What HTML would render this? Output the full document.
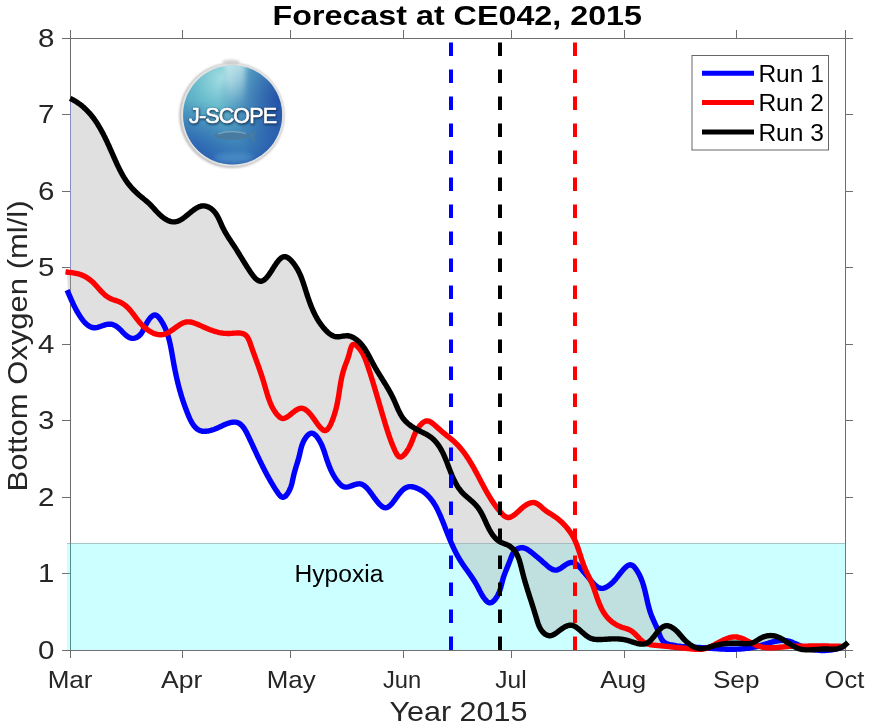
<!DOCTYPE html>
<html><head><meta charset="utf-8"><style>html,body{margin:0;padding:0;background:#fff;}svg{display:block;will-change:transform;}</style></head>
<body><svg width="870" height="728" viewBox="0 0 870 728">
<rect x="0" y="0" width="870" height="728" fill="#fff"/>
<g stroke="#6e6e6e" stroke-width="1" fill="none" shape-rendering="crispEdges">
<rect x="70" y="38" width="775" height="612"/>
<line x1="70.0" y1="650" x2="70.0" y2="658"/>
<line x1="70.0" y1="30" x2="70.0" y2="38"/>
<line x1="182.3" y1="650" x2="182.3" y2="658"/>
<line x1="182.3" y1="30" x2="182.3" y2="38"/>
<line x1="290.9" y1="650" x2="290.9" y2="658"/>
<line x1="290.9" y1="30" x2="290.9" y2="38"/>
<line x1="403.2" y1="650" x2="403.2" y2="658"/>
<line x1="403.2" y1="30" x2="403.2" y2="38"/>
<line x1="511.8" y1="650" x2="511.8" y2="658"/>
<line x1="511.8" y1="30" x2="511.8" y2="38"/>
<line x1="624.1" y1="650" x2="624.1" y2="658"/>
<line x1="624.1" y1="30" x2="624.1" y2="38"/>
<line x1="736.4" y1="650" x2="736.4" y2="658"/>
<line x1="736.4" y1="30" x2="736.4" y2="38"/>
<line x1="845.0" y1="650" x2="845.0" y2="658"/>
<line x1="845.0" y1="30" x2="845.0" y2="38"/>
<line x1="62" y1="650.0" x2="70" y2="650.0"/>
<line x1="845" y1="650.0" x2="853" y2="650.0"/>
<line x1="62" y1="573.5" x2="70" y2="573.5"/>
<line x1="845" y1="573.5" x2="853" y2="573.5"/>
<line x1="62" y1="497.0" x2="70" y2="497.0"/>
<line x1="845" y1="497.0" x2="853" y2="497.0"/>
<line x1="62" y1="420.5" x2="70" y2="420.5"/>
<line x1="845" y1="420.5" x2="853" y2="420.5"/>
<line x1="62" y1="344.0" x2="70" y2="344.0"/>
<line x1="845" y1="344.0" x2="853" y2="344.0"/>
<line x1="62" y1="267.5" x2="70" y2="267.5"/>
<line x1="845" y1="267.5" x2="853" y2="267.5"/>
<line x1="62" y1="191.0" x2="70" y2="191.0"/>
<line x1="845" y1="191.0" x2="853" y2="191.0"/>
<line x1="62" y1="114.5" x2="70" y2="114.5"/>
<line x1="845" y1="114.5" x2="853" y2="114.5"/>
<line x1="62" y1="38.0" x2="70" y2="38.0"/>
<line x1="845" y1="38.0" x2="853" y2="38.0"/>
</g>
<rect x="67" y="543" width="778.5" height="107" fill="#00ffff" fill-opacity="0.2"/>
<line x1="67" y1="543.5" x2="845.5" y2="543.5" stroke="#7a9090" stroke-width="1" stroke-opacity="0.5"/>
<path d="M67.00 272.07 L68.00 272.20 L69.00 272.32 L70.00 272.45 L71.00 98.84 L72.00 99.34 L73.00 99.87 L74.00 100.43 L75.00 101.01 L76.00 101.62 L77.00 102.26 L78.00 102.93 L79.00 103.63 L80.00 104.36 L81.00 105.13 L82.00 105.93 L83.00 106.77 L84.00 107.65 L85.00 108.56 L86.00 109.52 L87.00 110.52 L88.00 111.56 L89.00 112.65 L90.00 113.78 L91.00 114.97 L92.00 116.21 L93.00 117.49 L94.00 118.84 L95.00 120.24 L96.00 121.69 L97.00 123.21 L98.00 124.79 L99.00 126.43 L100.00 128.13 L101.00 129.90 L102.00 131.72 L103.00 133.61 L104.00 135.56 L105.00 137.57 L106.00 139.63 L107.00 141.75 L108.00 143.90 L109.00 146.10 L110.00 148.33 L111.00 150.58 L112.00 152.84 L113.00 155.11 L114.00 157.37 L115.00 159.62 L116.00 161.84 L117.00 164.03 L118.00 166.17 L119.00 168.24 L120.00 170.24 L121.00 172.16 L122.00 174.00 L123.00 175.76 L124.00 177.44 L125.00 179.03 L126.00 180.54 L127.00 181.98 L128.00 183.34 L129.00 184.64 L130.00 185.87 L131.00 187.03 L132.00 188.15 L133.00 189.22 L134.00 190.26 L135.00 191.25 L136.00 192.22 L137.00 193.16 L138.00 194.07 L139.00 194.96 L140.00 195.83 L141.00 196.68 L142.00 197.51 L143.00 198.33 L144.00 199.14 L145.00 199.95 L146.00 200.77 L147.00 201.61 L148.00 202.47 L149.00 203.39 L150.00 204.36 L151.00 205.38 L152.00 206.44 L153.00 207.54 L154.00 208.65 L155.00 209.77 L156.00 210.87 L157.00 211.94 L158.00 212.97 L159.00 213.96 L160.00 214.90 L161.00 215.79 L162.00 216.63 L163.00 217.41 L164.00 218.14 L165.00 218.81 L166.00 219.42 L167.00 219.98 L168.00 220.47 L169.00 220.90 L170.00 221.25 L171.00 221.53 L172.00 221.74 L173.00 221.86 L174.00 221.90 L175.00 221.85 L176.00 221.69 L177.00 221.44 L178.00 221.10 L179.00 220.69 L180.00 220.20 L181.00 219.65 L182.00 219.03 L183.00 218.37 L184.00 217.65 L185.00 216.90 L186.00 216.11 L187.00 215.31 L188.00 214.48 L189.00 213.66 L190.00 212.83 L191.00 212.02 L192.00 211.22 L193.00 210.45 L194.00 209.71 L195.00 209.02 L196.00 208.38 L197.00 207.80 L198.00 207.28 L199.00 206.83 L200.00 206.46 L201.00 206.17 L202.00 205.97 L203.00 205.86 L204.00 205.86 L205.00 205.97 L206.00 206.18 L207.00 206.48 L208.00 206.87 L209.00 207.35 L210.00 207.92 L211.00 208.59 L212.00 209.36 L213.00 210.24 L214.00 211.26 L215.00 212.45 L216.00 213.81 L217.00 215.37 L218.00 217.16 L219.00 219.17 L220.00 221.36 L221.00 223.63 L222.00 225.88 L223.00 227.99 L224.00 229.95 L225.00 231.79 L226.00 233.53 L227.00 235.20 L228.00 236.82 L229.00 238.39 L230.00 239.93 L231.00 241.45 L232.00 242.96 L233.00 244.46 L234.00 245.96 L235.00 247.48 L236.00 249.02 L237.00 250.59 L238.00 252.18 L239.00 253.80 L240.00 255.43 L241.00 257.07 L242.00 258.71 L243.00 260.35 L244.00 261.98 L245.00 263.60 L246.00 265.20 L247.00 266.78 L248.00 268.34 L249.00 269.88 L250.00 271.39 L251.00 272.87 L252.00 274.28 L253.00 275.61 L254.00 276.84 L255.00 277.96 L256.00 278.95 L257.00 279.78 L258.00 280.45 L259.00 280.93 L260.00 281.21 L261.00 281.24 L262.00 281.04 L263.00 280.62 L264.00 280.00 L265.00 279.20 L266.00 278.24 L267.00 277.13 L268.00 275.89 L269.00 274.54 L270.00 273.11 L271.00 271.60 L272.00 270.06 L273.00 268.48 L274.00 266.91 L275.00 265.37 L276.00 263.88 L277.00 262.46 L278.00 261.16 L279.00 259.99 L280.00 258.97 L281.00 258.12 L282.00 257.46 L283.00 256.99 L284.00 256.73 L285.00 256.70 L286.00 256.88 L287.00 257.26 L288.00 257.82 L289.00 258.53 L290.00 259.38 L291.00 260.36 L292.00 261.45 L293.00 262.65 L294.00 263.96 L295.00 265.37 L296.00 266.88 L297.00 268.50 L298.00 270.27 L299.00 272.20 L300.00 274.32 L301.00 276.66 L302.00 279.24 L303.00 282.06 L304.00 285.08 L305.00 288.20 L306.00 291.33 L307.00 294.43 L308.00 297.44 L309.00 300.34 L310.00 303.10 L311.00 305.71 L312.00 308.17 L313.00 310.49 L314.00 312.66 L315.00 314.70 L316.00 316.61 L317.00 318.40 L318.00 320.09 L319.00 321.67 L320.00 323.16 L321.00 324.57 L322.00 325.89 L323.00 327.14 L324.00 328.33 L325.00 329.45 L326.00 330.51 L327.00 331.50 L328.00 332.43 L329.00 333.29 L330.00 334.06 L331.00 334.74 L332.00 335.33 L333.00 335.82 L334.00 336.22 L335.00 336.51 L336.00 336.69 L337.00 336.78 L338.00 336.79 L339.00 336.73 L340.00 336.61 L341.00 336.46 L342.00 336.29 L343.00 336.13 L344.00 335.97 L345.00 335.85 L346.00 335.77 L347.00 335.76 L348.00 335.81 L349.00 335.95 L350.00 336.20 L351.00 336.52 L352.00 336.92 L353.00 337.39 L354.00 337.94 L355.00 338.57 L356.00 339.26 L357.00 340.02 L358.00 340.86 L359.00 341.77 L360.00 342.77 L361.00 343.86 L362.00 345.03 L363.00 346.30 L364.00 347.68 L365.00 349.16 L366.00 350.73 L367.00 352.41 L368.00 354.16 L369.00 355.99 L370.00 357.88 L371.00 359.79 L372.00 361.70 L373.00 363.59 L374.00 365.43 L375.00 367.22 L376.00 368.95 L377.00 370.65 L378.00 372.31 L379.00 373.94 L380.00 375.56 L381.00 377.17 L382.00 378.76 L383.00 380.36 L384.00 381.97 L385.00 383.59 L386.00 385.22 L387.00 386.88 L388.00 388.58 L389.00 390.31 L390.00 392.10 L391.00 393.95 L392.00 395.87 L393.00 397.88 L394.00 400.01 L395.00 402.26 L396.00 404.59 L397.00 406.92 L398.00 409.19 L399.00 411.34 L400.00 413.32 L401.00 415.11 L402.00 416.74 L403.00 418.17 L404.00 419.45 L405.00 420.61 L406.00 421.66 L407.00 422.62 L408.00 423.51 L409.00 424.35 L410.00 425.12 L411.00 425.86 L412.00 426.55 L413.00 427.21 L414.00 427.84 L415.00 428.44 L416.00 429.02 L417.00 429.58 L418.00 428.15 L419.00 426.73 L420.00 425.48 L421.00 424.36 L422.00 423.37 L423.00 422.53 L424.00 421.85 L425.00 421.34 L426.00 421.03 L427.00 420.92 L428.00 421.00 L429.00 421.27 L430.00 421.69 L431.00 422.25 L432.00 422.93 L433.00 423.70 L434.00 424.52 L435.00 425.38 L436.00 426.26 L437.00 427.15 L438.00 428.05 L439.00 428.94 L440.00 429.84 L441.00 430.73 L442.00 431.60 L443.00 432.45 L444.00 433.28 L445.00 434.09 L446.00 434.88 L447.00 435.67 L448.00 436.46 L449.00 437.25 L450.00 438.05 L451.00 438.86 L452.00 439.69 L453.00 440.55 L454.00 441.44 L455.00 442.37 L456.00 443.33 L457.00 444.34 L458.00 445.39 L459.00 446.48 L460.00 447.61 L461.00 448.79 L462.00 450.01 L463.00 451.29 L464.00 452.61 L465.00 453.97 L466.00 455.39 L467.00 456.85 L468.00 458.36 L469.00 459.92 L470.00 461.53 L471.00 463.18 L472.00 464.88 L473.00 466.61 L474.00 468.39 L475.00 470.20 L476.00 472.03 L477.00 473.90 L478.00 475.78 L479.00 477.67 L480.00 479.57 L481.00 481.47 L482.00 483.37 L483.00 485.25 L484.00 487.11 L485.00 488.95 L486.00 490.76 L487.00 492.53 L488.00 494.25 L489.00 495.94 L490.00 497.59 L491.00 499.18 L492.00 500.73 L493.00 502.24 L494.00 503.70 L495.00 505.10 L496.00 506.47 L497.00 507.79 L498.00 509.07 L499.00 510.31 L500.00 511.51 L501.00 512.67 L502.00 513.78 L503.00 514.80 L504.00 515.69 L505.00 516.43 L506.00 516.99 L507.00 517.35 L508.00 517.50 L509.00 517.47 L510.00 517.25 L511.00 516.89 L512.00 516.38 L513.00 515.78 L514.00 515.09 L515.00 514.33 L516.00 513.51 L517.00 512.64 L518.00 511.74 L519.00 510.81 L520.00 509.88 L521.00 508.96 L522.00 508.07 L523.00 507.22 L524.00 506.43 L525.00 505.70 L526.00 505.03 L527.00 504.42 L528.00 503.89 L529.00 503.44 L530.00 503.06 L531.00 502.77 L532.00 502.57 L533.00 502.50 L534.00 502.59 L535.00 502.81 L536.00 503.16 L537.00 503.66 L538.00 504.27 L539.00 504.98 L540.00 505.78 L541.00 506.64 L542.00 507.54 L543.00 508.43 L544.00 509.31 L545.00 510.13 L546.00 510.89 L547.00 511.59 L548.00 512.24 L549.00 512.87 L550.00 513.49 L551.00 514.10 L552.00 514.72 L553.00 515.37 L554.00 516.04 L555.00 516.73 L556.00 517.46 L557.00 518.22 L558.00 519.00 L559.00 519.82 L560.00 520.68 L561.00 521.57 L562.00 522.51 L563.00 523.48 L564.00 524.50 L565.00 525.57 L566.00 526.69 L567.00 527.86 L568.00 529.10 L569.00 530.42 L570.00 531.81 L571.00 533.29 L572.00 534.89 L573.00 536.60 L574.00 538.48 L575.00 540.55 L576.00 542.83 L577.00 545.34 L578.00 548.08 L579.00 551.03 L580.00 554.13 L581.00 557.28 L582.00 560.38 L583.00 563.34 L584.00 566.09 L585.00 568.60 L586.00 570.88 L587.00 573.00 L588.00 575.03 L589.00 577.03 L590.00 579.07 L591.00 580.64 L592.00 581.84 L593.00 582.98 L594.00 584.05 L595.00 585.04 L596.00 585.92 L597.00 586.68 L598.00 587.32 L599.00 587.80 L600.00 588.14 L601.00 588.33 L602.00 588.37 L603.00 588.28 L604.00 588.06 L605.00 587.71 L606.00 587.26 L607.00 586.73 L608.00 586.13 L609.00 585.45 L610.00 584.68 L611.00 583.86 L612.00 582.96 L613.00 582.00 L614.00 580.96 L615.00 579.84 L616.00 578.65 L617.00 577.42 L618.00 576.15 L619.00 574.87 L620.00 573.59 L621.00 572.34 L622.00 571.12 L623.00 569.94 L624.00 568.83 L625.00 567.81 L626.00 566.90 L627.00 566.12 L628.00 565.49 L629.00 565.05 L630.00 564.83 L631.00 564.87 L632.00 565.21 L633.00 565.83 L634.00 566.72 L635.00 567.85 L636.00 569.18 L637.00 570.67 L638.00 572.32 L639.00 574.12 L640.00 576.13 L641.00 578.37 L642.00 580.91 L643.00 583.83 L644.00 587.18 L645.00 591.01 L646.00 595.28 L647.00 599.75 L648.00 604.06 L649.00 607.95 L650.00 611.34 L651.00 614.26 L652.00 616.82 L653.00 619.16 L654.00 621.39 L655.00 623.57 L656.00 625.77 L657.00 628.04 L658.00 630.45 L659.00 630.28 L660.00 629.23 L661.00 628.30 L662.00 627.50 L663.00 626.84 L664.00 626.33 L665.00 625.97 L666.00 625.78 L667.00 625.74 L668.00 625.85 L669.00 626.08 L670.00 626.43 L671.00 626.88 L672.00 627.42 L673.00 628.05 L674.00 628.77 L675.00 629.58 L676.00 630.46 L677.00 631.43 L678.00 632.47 L679.00 633.58 L680.00 634.72 L681.00 635.89 L682.00 637.05 L683.00 638.18 L684.00 639.27 L685.00 640.30 L686.00 641.26 L687.00 642.17 L688.00 643.02 L689.00 643.81 L690.00 644.55 L691.00 645.22 L692.00 645.83 L693.00 646.38 L694.00 646.87 L695.00 647.29 L696.00 647.38 L697.00 647.42 L698.00 647.47 L699.00 647.51 L700.00 647.56 L701.00 647.61 L702.00 647.66 L703.00 647.72 L704.00 647.78 L705.00 647.84 L706.00 647.91 L707.00 647.77 L708.00 647.52 L709.00 647.24 L710.00 646.85 L711.00 646.41 L712.00 645.94 L713.00 645.45 L714.00 644.94 L715.00 644.42 L716.00 643.89 L717.00 643.36 L718.00 642.82 L719.00 642.28 L720.00 641.75 L721.00 641.23 L722.00 640.72 L723.00 640.22 L724.00 639.75 L725.00 639.30 L726.00 638.87 L727.00 638.48 L728.00 638.12 L729.00 637.81 L730.00 637.53 L731.00 637.30 L732.00 637.11 L733.00 636.98 L734.00 636.92 L735.00 636.91 L736.00 636.96 L737.00 637.07 L738.00 637.24 L739.00 637.47 L740.00 637.75 L741.00 638.08 L742.00 638.44 L743.00 638.84 L744.00 639.27 L745.00 639.73 L746.00 640.21 L747.00 640.71 L748.00 641.21 L749.00 641.73 L750.00 642.25 L751.00 642.76 L752.00 642.95 L753.00 642.60 L754.00 642.15 L755.00 641.63 L756.00 641.06 L757.00 640.46 L758.00 639.84 L759.00 639.22 L760.00 638.63 L761.00 638.07 L762.00 637.57 L763.00 637.12 L764.00 636.75 L765.00 636.42 L766.00 636.15 L767.00 635.93 L768.00 635.76 L769.00 635.65 L770.00 635.58 L771.00 635.57 L772.00 635.61 L773.00 635.70 L774.00 635.87 L775.00 636.09 L776.00 636.36 L777.00 636.69 L778.00 637.07 L779.00 637.49 L780.00 637.97 L781.00 638.49 L782.00 639.04 L783.00 639.63 L784.00 640.24 L785.00 640.50 L786.00 640.62 L787.00 640.77 L788.00 640.99 L789.00 641.25 L790.00 641.54 L791.00 641.87 L792.00 642.24 L793.00 642.63 L794.00 643.04 L795.00 643.46 L796.00 643.90 L797.00 644.33 L798.00 644.77 L799.00 645.19 L800.00 645.61 L801.00 646.01 L802.00 646.13 L803.00 646.12 L804.00 646.11 L805.00 646.10 L806.00 646.09 L807.00 646.08 L808.00 646.07 L809.00 646.06 L810.00 646.06 L811.00 646.05 L812.00 646.04 L813.00 646.04 L814.00 646.03 L815.00 646.03 L816.00 646.02 L817.00 646.02 L818.00 646.02 L819.00 646.02 L820.00 646.02 L821.00 646.02 L822.00 646.02 L823.00 646.03 L824.00 646.03 L825.00 646.04 L826.00 646.04 L827.00 646.05 L828.00 646.06 L829.00 646.07 L830.00 646.09 L831.00 646.10 L832.00 646.12 L833.00 646.13 L834.00 646.15 L835.00 646.17 L836.00 646.19 L837.00 646.22 L838.00 646.25 L839.00 646.27 L840.00 646.30 L841.00 646.33 L842.00 646.37 L843.00 646.37 L844.00 645.74 L845.00 645.04 L845.00 645.50 L844.00 646.44 L843.00 646.63 L842.00 647.07 L841.00 647.47 L840.00 647.86 L839.00 648.24 L838.00 648.55 L837.00 648.81 L836.00 648.99 L835.00 649.18 L834.00 649.38 L833.00 649.57 L832.00 649.74 L831.00 649.89 L830.00 650.03 L829.00 650.15 L828.00 650.25 L827.00 650.33 L826.00 650.39 L825.00 650.44 L824.00 650.47 L823.00 650.48 L822.00 650.47 L821.00 650.44 L820.00 650.39 L819.00 650.32 L818.00 650.24 L817.00 650.14 L816.00 650.01 L815.00 649.87 L814.00 649.71 L813.00 649.71 L812.00 649.77 L811.00 649.82 L810.00 649.86 L809.00 649.88 L808.00 649.89 L807.00 649.88 L806.00 649.84 L805.00 649.78 L804.00 649.69 L803.00 649.57 L802.00 649.41 L801.00 649.22 L800.00 648.98 L799.00 648.70 L798.00 648.36 L797.00 647.97 L796.00 647.53 L795.00 647.05 L794.00 646.54 L793.00 646.27 L792.00 646.30 L791.00 646.34 L790.00 646.38 L789.00 646.44 L788.00 646.50 L787.00 646.57 L786.00 646.65 L785.00 646.74 L784.00 646.83 L783.00 646.93 L782.00 647.03 L781.00 647.12 L780.00 647.22 L779.00 647.32 L778.00 647.41 L777.00 647.49 L776.00 647.57 L775.00 647.64 L774.00 647.70 L773.00 647.75 L772.00 647.79 L771.00 647.81 L770.00 647.81 L769.00 647.80 L768.00 647.77 L767.00 647.71 L766.00 647.62 L765.00 647.51 L764.00 647.37 L763.00 647.20 L762.00 647.00 L761.00 646.76 L760.00 646.49 L759.00 646.19 L758.00 646.25 L757.00 646.49 L756.00 646.72 L755.00 646.94 L754.00 647.15 L753.00 647.35 L752.00 647.54 L751.00 647.71 L750.00 647.88 L749.00 648.03 L748.00 648.18 L747.00 648.31 L746.00 648.44 L745.00 648.55 L744.00 648.66 L743.00 648.75 L742.00 648.84 L741.00 648.92 L740.00 648.99 L739.00 649.05 L738.00 649.11 L737.00 649.16 L736.00 649.19 L735.00 649.23 L734.00 649.25 L733.00 649.27 L732.00 649.28 L731.00 649.28 L730.00 649.28 L729.00 649.27 L728.00 649.25 L727.00 649.23 L726.00 649.20 L725.00 649.17 L724.00 649.13 L723.00 649.09 L722.00 649.04 L721.00 648.99 L720.00 648.93 L719.00 648.87 L718.00 648.80 L717.00 648.73 L716.00 648.66 L715.00 648.59 L714.00 648.51 L713.00 648.44 L712.00 648.36 L711.00 648.28 L710.00 648.20 L709.00 648.13 L708.00 648.05 L707.00 648.01 L706.00 648.33 L705.00 648.61 L704.00 648.85 L703.00 649.04 L702.00 649.18 L701.00 649.29 L700.00 649.35 L699.00 649.38 L698.00 649.38 L697.00 649.35 L696.00 649.30 L695.00 649.24 L694.00 649.16 L693.00 649.07 L692.00 648.97 L691.00 648.87 L690.00 648.78 L689.00 648.68 L688.00 648.58 L687.00 648.48 L686.00 648.38 L685.00 648.28 L684.00 648.17 L683.00 648.07 L682.00 647.97 L681.00 647.87 L680.00 647.77 L679.00 647.67 L678.00 647.56 L677.00 647.46 L676.00 647.36 L675.00 647.26 L674.00 647.16 L673.00 647.05 L672.00 646.95 L671.00 646.85 L670.00 646.75 L669.00 646.65 L668.00 646.55 L667.00 646.45 L666.00 646.35 L665.00 646.25 L664.00 646.16 L663.00 646.06 L662.00 645.96 L661.00 645.87 L660.00 645.77 L659.00 645.68 L658.00 645.58 L657.00 645.49 L656.00 645.40 L655.00 645.30 L654.00 645.19 L653.00 645.07 L652.00 644.94 L651.00 644.78 L650.00 644.58 L649.00 644.35 L648.00 644.08 L647.00 643.76 L646.00 643.53 L645.00 643.81 L644.00 644.00 L643.00 644.09 L642.00 644.11 L641.00 644.06 L640.00 643.95 L639.00 643.79 L638.00 643.59 L637.00 643.34 L636.00 643.08 L635.00 642.79 L634.00 642.48 L633.00 642.16 L632.00 641.83 L631.00 641.51 L630.00 641.18 L629.00 640.87 L628.00 640.57 L627.00 640.29 L626.00 640.03 L625.00 639.80 L624.00 639.59 L623.00 639.42 L622.00 639.27 L621.00 639.15 L620.00 639.05 L619.00 638.97 L618.00 638.91 L617.00 638.87 L616.00 638.85 L615.00 638.84 L614.00 638.85 L613.00 638.87 L612.00 638.91 L611.00 638.95 L610.00 638.99 L609.00 639.05 L608.00 639.11 L607.00 639.17 L606.00 639.23 L605.00 639.29 L604.00 639.35 L603.00 639.40 L602.00 639.45 L601.00 639.49 L600.00 639.52 L599.00 639.54 L598.00 639.54 L597.00 639.50 L596.00 639.44 L595.00 639.34 L594.00 639.20 L593.00 639.00 L592.00 638.73 L591.00 638.39 L590.00 637.97 L589.00 637.46 L588.00 636.87 L587.00 636.20 L586.00 635.46 L585.00 634.66 L584.00 633.82 L583.00 632.94 L582.00 632.04 L581.00 631.14 L580.00 630.25 L579.00 629.39 L578.00 628.57 L577.00 627.81 L576.00 627.12 L575.00 626.52 L574.00 626.02 L573.00 625.63 L572.00 625.36 L571.00 625.22 L570.00 625.21 L569.00 625.33 L568.00 625.57 L567.00 625.91 L566.00 626.34 L565.00 626.84 L564.00 627.41 L563.00 628.03 L562.00 628.69 L561.00 629.40 L560.00 630.13 L559.00 630.89 L558.00 631.65 L557.00 632.40 L556.00 633.11 L555.00 633.78 L554.00 634.39 L553.00 634.91 L552.00 635.32 L551.00 635.61 L550.00 635.74 L549.00 635.71 L548.00 635.51 L547.00 635.17 L546.00 634.67 L545.00 634.03 L544.00 633.24 L543.00 632.29 L542.00 631.14 L541.00 629.73 L540.00 628.01 L539.00 625.89 L538.00 623.31 L537.00 620.23 L536.00 616.84 L535.00 613.49 L534.00 610.23 L533.00 607.04 L532.00 603.90 L531.00 600.79 L530.00 597.69 L529.00 594.57 L528.00 591.43 L527.00 588.23 L526.00 584.95 L525.00 581.56 L524.00 578.02 L523.00 574.29 L522.00 570.30 L521.00 566.23 L520.00 562.53 L519.00 559.39 L518.00 556.79 L517.00 554.65 L516.00 552.85 L515.00 551.33 L514.00 551.90 L513.00 553.40 L512.00 555.37 L511.00 557.79 L510.00 560.49 L509.00 563.10 L508.00 565.58 L507.00 568.02 L506.00 570.46 L505.00 573.00 L504.00 575.74 L503.00 578.88 L502.00 582.62 L501.00 586.49 L500.00 589.85 L499.00 592.55 L498.00 594.77 L497.00 596.58 L496.00 598.14 L495.00 599.49 L494.00 600.64 L493.00 601.56 L492.00 602.25 L491.00 602.68 L490.00 602.82 L489.00 602.66 L488.00 602.21 L487.00 601.49 L486.00 600.54 L485.00 599.38 L484.00 598.06 L483.00 596.60 L482.00 595.00 L481.00 593.24 L480.00 591.38 L479.00 589.42 L478.00 587.45 L477.00 585.55 L476.00 583.76 L475.00 582.08 L474.00 580.48 L473.00 578.93 L472.00 577.43 L471.00 575.98 L470.00 574.54 L469.00 573.12 L468.00 571.72 L467.00 570.32 L466.00 568.91 L465.00 567.50 L464.00 566.06 L463.00 564.61 L462.00 563.11 L461.00 561.58 L460.00 559.98 L459.00 558.32 L458.00 556.58 L457.00 554.77 L456.00 552.88 L455.00 550.91 L454.00 548.86 L453.00 546.72 L452.00 544.50 L451.00 542.21 L450.00 539.84 L449.00 537.41 L448.00 534.93 L447.00 532.41 L446.00 529.86 L445.00 527.30 L444.00 524.74 L443.00 522.21 L442.00 519.72 L441.00 517.29 L440.00 514.95 L439.00 512.72 L438.00 510.60 L437.00 508.61 L436.00 506.75 L435.00 505.00 L434.00 503.38 L433.00 501.87 L432.00 500.46 L431.00 499.15 L430.00 497.94 L429.00 496.81 L428.00 495.76 L427.00 494.79 L426.00 493.89 L425.00 493.05 L424.00 492.27 L423.00 491.55 L422.00 490.89 L421.00 490.27 L420.00 489.70 L419.00 489.18 L418.00 488.69 L417.00 488.25 L416.00 487.84 L415.00 487.50 L414.00 487.20 L413.00 486.95 L412.00 486.76 L411.00 486.67 L410.00 486.66 L409.00 486.74 L408.00 486.93 L407.00 487.24 L406.00 487.68 L405.00 488.25 L404.00 488.95 L403.00 489.77 L402.00 490.72 L401.00 491.78 L400.00 492.94 L399.00 494.19 L398.00 495.51 L397.00 496.87 L396.00 498.25 L395.00 499.62 L394.00 500.95 L393.00 502.24 L392.00 503.45 L391.00 504.56 L390.00 505.54 L389.00 506.36 L388.00 507.01 L387.00 507.46 L386.00 507.70 L385.00 507.70 L384.00 507.48 L383.00 507.05 L382.00 506.43 L381.00 505.66 L380.00 504.75 L379.00 503.71 L378.00 502.57 L377.00 501.35 L376.00 500.07 L375.00 498.73 L374.00 497.35 L373.00 495.95 L372.00 494.54 L371.00 493.16 L370.00 491.82 L369.00 490.54 L368.00 489.32 L367.00 488.19 L366.00 487.17 L365.00 486.27 L364.00 485.51 L363.00 484.89 L362.00 484.41 L361.00 484.08 L360.00 483.88 L359.00 483.83 L358.00 483.91 L357.00 484.07 L356.00 484.30 L355.00 484.58 L354.00 484.91 L353.00 485.26 L352.00 485.61 L351.00 485.97 L350.00 486.30 L349.00 486.60 L348.00 486.86 L347.00 487.02 L346.00 487.10 L345.00 487.06 L344.00 486.87 L343.00 486.48 L342.00 485.89 L341.00 485.11 L340.00 484.17 L339.00 483.10 L338.00 481.91 L337.00 480.62 L336.00 479.23 L335.00 477.72 L334.00 476.08 L333.00 474.31 L332.00 472.37 L331.00 470.27 L330.00 467.99 L329.00 465.51 L328.00 462.84 L327.00 459.99 L326.00 456.98 L325.00 453.89 L324.00 450.86 L323.00 448.09 L322.00 445.65 L321.00 443.49 L320.00 441.59 L319.00 439.88 L318.00 438.34 L317.00 436.97 L316.00 435.77 L315.00 434.78 L314.00 434.02 L313.00 433.50 L312.00 433.25 L311.00 433.29 L310.00 433.61 L309.00 434.21 L308.00 435.04 L307.00 436.07 L306.00 437.31 L305.00 438.77 L304.00 440.49 L303.00 442.53 L302.00 445.09 L301.00 448.45 L300.00 452.67 L299.00 456.88 L298.00 460.47 L297.00 463.78 L296.00 467.02 L295.00 470.38 L294.00 474.09 L293.00 478.51 L292.00 482.91 L291.00 486.37 L290.00 489.01 L289.00 491.13 L288.00 492.86 L287.00 494.32 L286.00 495.52 L285.00 496.43 L284.00 497.03 L283.00 497.26 L282.00 497.07 L281.00 496.50 L280.00 495.60 L279.00 494.44 L278.00 493.08 L277.00 491.63 L276.00 490.12 L275.00 488.57 L274.00 486.97 L273.00 485.32 L272.00 483.64 L271.00 481.92 L270.00 480.17 L269.00 478.40 L268.00 476.59 L267.00 474.75 L266.00 472.88 L265.00 470.98 L264.00 469.05 L263.00 467.08 L262.00 465.09 L261.00 463.07 L260.00 461.02 L259.00 458.95 L258.00 456.86 L257.00 454.75 L256.00 452.62 L255.00 450.48 L254.00 448.34 L253.00 446.18 L252.00 444.03 L251.00 441.88 L250.00 439.73 L249.00 437.58 L248.00 435.47 L247.00 433.42 L246.00 431.53 L245.00 429.79 L244.00 428.25 L243.00 426.90 L242.00 425.74 L241.00 424.76 L240.00 423.96 L239.00 423.31 L238.00 422.82 L237.00 422.47 L236.00 422.24 L235.00 422.12 L234.00 422.10 L233.00 422.18 L232.00 422.33 L231.00 422.52 L230.00 422.76 L229.00 423.04 L228.00 423.36 L227.00 423.71 L226.00 424.09 L225.00 424.50 L224.00 424.93 L223.00 425.38 L222.00 425.83 L221.00 426.30 L220.00 426.77 L219.00 427.23 L218.00 427.69 L217.00 428.13 L216.00 428.56 L215.00 428.97 L214.00 429.35 L213.00 429.70 L212.00 430.03 L211.00 430.33 L210.00 430.58 L209.00 430.81 L208.00 431.00 L207.00 431.15 L206.00 431.25 L205.00 431.31 L204.00 431.32 L203.00 431.25 L202.00 431.11 L201.00 430.88 L200.00 430.56 L199.00 430.13 L198.00 429.57 L197.00 428.88 L196.00 428.04 L195.00 427.03 L194.00 425.84 L193.00 424.46 L192.00 422.88 L191.00 421.07 L190.00 419.05 L189.00 416.82 L188.00 414.42 L187.00 411.93 L186.00 409.33 L185.00 406.63 L184.00 403.82 L183.00 400.87 L182.00 397.78 L181.00 394.52 L180.00 391.07 L179.00 387.41 L178.00 383.51 L177.00 379.34 L176.00 374.88 L175.00 370.08 L174.00 364.94 L173.00 359.44 L172.00 353.70 L171.00 348.22 L170.00 343.38 L169.00 339.25 L168.00 335.72 L167.00 333.29 L166.00 333.73 L165.00 334.09 L164.00 334.38 L163.00 334.58 L162.00 334.71 L161.00 334.77 L160.00 334.77 L159.00 334.68 L158.00 334.54 L157.00 334.34 L156.00 334.08 L155.00 333.77 L154.00 333.40 L153.00 332.98 L152.00 332.50 L151.00 331.97 L150.00 331.40 L149.00 330.77 L148.00 330.10 L147.00 329.37 L146.00 328.60 L145.00 327.77 L144.00 328.50 L143.00 330.54 L142.00 332.33 L141.00 333.83 L140.00 334.99 L139.00 335.91 L138.00 336.64 L137.00 337.23 L136.00 337.69 L135.00 338.02 L134.00 338.24 L133.00 338.35 L132.00 338.34 L131.00 338.18 L130.00 337.86 L129.00 337.40 L128.00 336.82 L127.00 336.12 L126.00 335.31 L125.00 334.41 L124.00 333.44 L123.00 332.43 L122.00 331.40 L121.00 330.38 L120.00 329.39 L119.00 328.45 L118.00 327.59 L117.00 326.81 L116.00 326.14 L115.00 325.57 L114.00 325.09 L113.00 324.71 L112.00 324.42 L111.00 324.22 L110.00 324.14 L109.00 324.15 L108.00 324.24 L107.00 324.40 L106.00 324.64 L105.00 324.92 L104.00 325.24 L103.00 325.57 L102.00 325.93 L101.00 326.28 L100.00 326.62 L99.00 326.94 L98.00 327.22 L97.00 327.46 L96.00 327.63 L95.00 327.74 L94.00 327.73 L93.00 327.61 L92.00 327.39 L91.00 327.06 L90.00 326.62 L89.00 326.07 L88.00 325.40 L87.00 324.62 L86.00 323.73 L85.00 322.74 L84.00 321.64 L83.00 320.44 L82.00 319.14 L81.00 317.74 L80.00 316.26 L79.00 314.71 L78.00 313.08 L77.00 311.36 L76.00 309.55 L75.00 307.63 L74.00 305.62 L73.00 303.51 L72.00 301.32 L71.00 299.08 L70.00 296.79 L69.00 294.50 L68.00 292.23 L67.00 272.07 Z" fill="#acacac" fill-opacity="0.37" stroke="none"/>
<line x1="70.5" y1="98.4" x2="70.5" y2="272.5" stroke="#8c8cc8" stroke-width="1"/>
<path d="M67.10 290.20 L67.69 291.53 L68.27 292.84 L68.84 294.13 L69.40 295.41 L69.94 296.66 L70.48 297.90 L71.02 299.12 L71.56 300.34 L72.09 301.54 L72.64 302.73 L73.18 303.91 L73.74 305.08 L74.31 306.25 L74.89 307.42 L75.49 308.59 L76.11 309.75 L76.75 310.92 L77.41 312.08 L78.10 313.26 L78.82 314.43 L79.58 315.62 L80.36 316.81 L81.18 318.01 L82.04 319.20 L82.93 320.36 L83.86 321.48 L84.82 322.56 L85.82 323.57 L86.85 324.50 L87.91 325.34 L89.01 326.08 L90.14 326.70 L91.31 327.19 L92.50 327.53 L93.73 327.72 L95.00 327.74 L96.29 327.60 L97.61 327.33 L98.94 326.96 L100.30 326.52 L101.66 326.05 L103.02 325.57 L104.38 325.11 L105.74 324.70 L107.09 324.38 L108.42 324.18 L109.72 324.12 L111.01 324.22 L112.26 324.48 L113.49 324.87 L114.70 325.40 L115.87 326.05 L117.01 326.81 L118.12 327.68 L119.21 328.64 L120.27 329.65 L121.32 330.70 L122.36 331.77 L123.39 332.84 L124.43 333.87 L125.47 334.85 L126.52 335.76 L127.60 336.57 L128.69 337.25 L129.81 337.80 L130.97 338.17 L132.16 338.36 L133.40 338.34 L134.65 338.13 L135.90 337.73 L137.11 337.18 L138.24 336.50 L139.28 335.69 L140.20 334.79 L141.02 333.80 L141.76 332.73 L142.45 331.57 L143.10 330.35 L143.73 329.07 L144.37 327.72 L145.04 326.33 L145.75 324.90 L146.54 323.43 L147.39 321.96 L148.30 320.52 L149.26 319.16 L150.25 317.93 L151.27 316.86 L152.30 315.99 L153.34 315.37 L154.36 315.04 L155.36 315.04 L156.34 315.37 L157.29 315.99 L158.20 316.83 L159.08 317.82 L159.92 318.91 L160.72 320.04 L161.48 321.18 L162.21 322.35 L162.90 323.53 L163.55 324.72 L164.17 325.94 L164.76 327.16 L165.32 328.41 L165.86 329.66 L166.36 330.93 L166.83 332.21 L167.29 333.50 L167.71 334.80 L168.12 336.11 L168.51 337.43 L168.87 338.75 L169.22 340.08 L169.55 341.42 L169.86 342.77 L170.16 344.12 L170.45 345.47 L170.73 346.83 L170.99 348.19 L171.25 349.55 L171.50 350.91 L171.75 352.27 L171.99 353.63 L172.23 354.99 L172.46 356.35 L172.70 357.70 L172.93 359.05 L173.17 360.39 L173.41 361.73 L173.65 363.07 L173.90 364.40 L174.15 365.73 L174.40 367.06 L174.66 368.38 L174.92 369.69 L175.19 371.01 L175.46 372.32 L175.73 373.63 L176.01 374.93 L176.30 376.24 L176.59 377.54 L176.88 378.84 L177.18 380.14 L177.49 381.44 L177.81 382.73 L178.13 384.03 L178.46 385.32 L178.79 386.61 L179.13 387.91 L179.48 389.20 L179.84 390.49 L180.20 391.79 L180.58 393.08 L180.96 394.37 L181.35 395.67 L181.75 396.97 L182.15 398.26 L182.57 399.56 L183.00 400.86 L183.43 402.17 L183.88 403.47 L184.34 404.78 L184.80 406.09 L185.28 407.40 L185.77 408.72 L186.27 410.04 L186.78 411.36 L187.30 412.69 L187.83 414.02 L188.38 415.35 L188.94 416.68 L189.52 418.00 L190.12 419.31 L190.74 420.58 L191.40 421.82 L192.08 423.03 L192.80 424.18 L193.56 425.27 L194.36 426.30 L195.20 427.25 L196.10 428.13 L197.04 428.91 L198.04 429.60 L199.10 430.18 L200.21 430.65 L201.40 431.00 L202.65 431.22 L203.96 431.32 L205.31 431.31 L206.70 431.19 L208.11 430.99 L209.52 430.71 L210.92 430.35 L212.30 429.94 L213.64 429.48 L214.96 428.99 L216.25 428.46 L217.52 427.91 L218.78 427.34 L220.02 426.76 L221.26 426.18 L222.49 425.61 L223.73 425.05 L224.97 424.51 L226.22 424.00 L227.49 423.53 L228.77 423.11 L230.08 422.73 L231.42 422.42 L232.75 422.20 L234.06 422.09 L235.33 422.13 L236.53 422.32 L237.67 422.67 L238.74 423.16 L239.76 423.77 L240.73 424.51 L241.64 425.36 L242.52 426.30 L243.34 427.33 L244.14 428.44 L244.89 429.61 L245.62 430.84 L246.32 432.11 L247.00 433.42 L247.65 434.74 L248.29 436.08 L248.92 437.42 L249.54 438.75 L250.16 440.07 L250.77 441.37 L251.37 442.67 L251.96 443.95 L252.55 445.22 L253.14 446.49 L253.72 447.74 L254.30 448.99 L254.88 450.22 L255.45 451.45 L256.02 452.67 L256.60 453.89 L257.17 455.10 L257.73 456.30 L258.30 457.50 L258.87 458.69 L259.45 459.88 L260.02 461.06 L260.60 462.24 L261.17 463.42 L261.76 464.60 L262.34 465.77 L262.93 466.94 L263.52 468.12 L264.12 469.29 L264.73 470.46 L265.34 471.63 L265.96 472.80 L266.59 473.98 L267.22 475.16 L267.86 476.34 L268.51 477.52 L269.17 478.70 L269.84 479.90 L270.52 481.09 L271.21 482.29 L271.92 483.50 L272.63 484.71 L273.36 485.92 L274.11 487.15 L274.87 488.37 L275.66 489.60 L276.47 490.83 L277.30 492.07 L278.15 493.30 L279.04 494.49 L279.94 495.55 L280.87 496.42 L281.82 497.02 L282.78 497.29 L283.76 497.15 L284.75 496.65 L285.71 495.84 L286.64 494.81 L287.52 493.62 L288.33 492.35 L289.05 491.05 L289.69 489.74 L290.25 488.43 L290.75 487.11 L291.19 485.79 L291.59 484.46 L291.95 483.13 L292.27 481.80 L292.58 480.47 L292.87 479.14 L293.15 477.81 L293.44 476.48 L293.74 475.16 L294.06 473.84 L294.40 472.53 L294.76 471.22 L295.13 469.92 L295.52 468.62 L295.91 467.32 L296.31 466.02 L296.71 464.73 L297.11 463.43 L297.50 462.14 L297.89 460.85 L298.27 459.55 L298.63 458.26 L298.98 456.96 L299.31 455.67 L299.62 454.37 L299.91 453.06 L300.20 451.76 L300.50 450.45 L300.82 449.14 L301.16 447.84 L301.53 446.53 L301.95 445.22 L302.43 443.91 L302.96 442.61 L303.57 441.31 L304.26 440.01 L305.04 438.71 L305.91 437.43 L306.85 436.23 L307.86 435.15 L308.92 434.26 L310.01 433.61 L311.11 433.25 L312.21 433.24 L313.29 433.59 L314.36 434.23 L315.39 435.12 L316.38 436.18 L317.32 437.38 L318.21 438.64 L319.03 439.92 L319.78 441.19 L320.47 442.45 L321.11 443.71 L321.70 444.96 L322.25 446.21 L322.75 447.45 L323.23 448.70 L323.68 449.95 L324.11 451.19 L324.53 452.45 L324.94 453.70 L325.35 454.97 L325.76 456.24 L326.17 457.52 L326.60 458.80 L327.03 460.09 L327.48 461.38 L327.94 462.67 L328.41 463.96 L328.90 465.24 L329.40 466.53 L329.92 467.80 L330.46 469.07 L331.03 470.33 L331.61 471.58 L332.22 472.82 L332.85 474.04 L333.51 475.25 L334.20 476.43 L334.92 477.60 L335.67 478.75 L336.45 479.87 L337.26 480.97 L338.11 482.05 L339.00 483.09 L339.92 484.10 L340.89 485.03 L341.91 485.83 L342.98 486.48 L344.12 486.92 L345.32 487.11 L346.57 487.09 L347.88 486.89 L349.23 486.54 L350.61 486.11 L352.00 485.61 L353.41 485.11 L354.82 484.64 L356.21 484.24 L357.59 483.95 L358.93 483.82 L360.24 483.89 L361.49 484.19 L362.70 484.70 L363.85 485.39 L364.96 486.23 L366.02 487.18 L367.02 488.21 L367.98 489.30 L368.89 490.40 L369.75 491.50 L370.58 492.59 L371.38 493.68 L372.17 494.78 L372.95 495.87 L373.73 496.97 L374.53 498.08 L375.35 499.20 L376.21 500.34 L377.11 501.48 L378.06 502.64 L379.05 503.77 L380.08 504.83 L381.14 505.78 L382.22 506.60 L383.31 507.22 L384.40 507.62 L385.48 507.76 L386.56 507.62 L387.62 507.23 L388.67 506.62 L389.70 505.82 L390.71 504.86 L391.71 503.79 L392.69 502.64 L393.64 501.43 L394.58 500.19 L395.49 498.94 L396.40 497.69 L397.30 496.45 L398.21 495.24 L399.11 494.05 L400.02 492.91 L400.95 491.83 L401.89 490.82 L402.86 489.89 L403.85 489.05 L404.88 488.32 L405.94 487.71 L407.05 487.22 L408.21 486.87 L409.41 486.67 L410.67 486.64 L411.98 486.76 L413.32 487.01 L414.68 487.39 L416.03 487.85 L417.36 488.40 L418.66 489.00 L419.92 489.65 L421.13 490.34 L422.30 491.07 L423.42 491.84 L424.51 492.65 L425.56 493.50 L426.57 494.38 L427.54 495.30 L428.48 496.25 L429.38 497.23 L430.25 498.23 L431.10 499.27 L431.91 500.33 L432.69 501.42 L433.45 502.53 L434.18 503.67 L434.89 504.82 L435.58 505.99 L436.24 507.18 L436.89 508.39 L437.51 509.61 L438.12 510.84 L438.71 512.09 L439.29 513.34 L439.85 514.60 L440.40 515.87 L440.94 517.15 L441.48 518.43 L442.00 519.71 L442.52 521.00 L443.03 522.28 L443.53 523.56 L444.04 524.84 L444.54 526.12 L445.04 527.40 L445.54 528.67 L446.03 529.94 L446.53 531.21 L447.03 532.48 L447.53 533.74 L448.03 535.01 L448.53 536.26 L449.04 537.52 L449.55 538.77 L450.07 540.02 L450.59 541.26 L451.12 542.50 L451.66 543.73 L452.20 544.96 L452.76 546.19 L453.32 547.41 L453.89 548.63 L454.47 549.84 L455.06 551.04 L455.67 552.24 L456.29 553.44 L456.92 554.63 L457.57 555.81 L458.23 556.99 L458.90 558.16 L459.59 559.32 L460.30 560.48 L461.03 561.63 L461.77 562.77 L462.53 563.91 L463.30 565.05 L464.08 566.18 L464.86 567.30 L465.65 568.43 L466.45 569.55 L467.25 570.67 L468.05 571.79 L468.85 572.91 L469.64 574.03 L470.43 575.15 L471.21 576.28 L471.98 577.40 L472.74 578.53 L473.48 579.67 L474.21 580.81 L474.93 581.96 L475.62 583.11 L476.29 584.27 L476.94 585.44 L477.57 586.61 L478.18 587.80 L478.78 588.99 L479.39 590.18 L480.01 591.39 L480.64 592.59 L481.31 593.81 L482.01 595.02 L482.77 596.24 L483.57 597.46 L484.45 598.69 L485.38 599.86 L486.36 600.93 L487.39 601.83 L488.45 602.48 L489.53 602.83 L490.62 602.81 L491.71 602.44 L492.78 601.76 L493.82 600.84 L494.81 599.75 L495.73 598.55 L496.57 597.29 L497.33 596.03 L498.01 594.75 L498.62 593.47 L499.16 592.17 L499.65 590.87 L500.10 589.56 L500.51 588.25 L500.88 586.94 L501.23 585.63 L501.57 584.32 L501.90 583.02 L502.23 581.72 L502.57 580.43 L502.92 579.14 L503.30 577.87 L503.70 576.61 L504.13 575.36 L504.58 574.11 L505.05 572.87 L505.53 571.63 L506.03 570.39 L506.54 569.14 L507.05 567.89 L507.57 566.64 L508.09 565.37 L508.61 564.09 L509.12 562.79 L509.63 561.48 L510.13 560.15 L510.62 558.80 L511.12 557.46 L511.65 556.14 L512.23 554.85 L512.87 553.62 L513.58 552.46 L514.39 551.38 L515.31 550.41 L516.36 549.56 L517.51 548.84 L518.75 548.29 L520.03 547.91 L521.35 547.72 L522.65 547.74 L523.94 547.97 L525.21 548.38 L526.45 548.94 L527.67 549.62 L528.87 550.40 L530.03 551.24 L531.17 552.12 L532.28 553.01 L533.36 553.88 L534.42 554.74 L535.46 555.60 L536.48 556.45 L537.50 557.31 L538.51 558.17 L539.52 559.04 L540.53 559.91 L541.55 560.81 L542.59 561.72 L543.64 562.65 L544.71 563.61 L545.81 564.59 L546.94 565.58 L548.09 566.55 L549.25 567.46 L550.43 568.28 L551.63 569.00 L552.82 569.56 L554.03 569.95 L555.23 570.14 L556.43 570.09 L557.62 569.80 L558.81 569.31 L560.01 568.67 L561.21 567.91 L562.42 567.07 L563.64 566.19 L564.88 565.33 L566.14 564.51 L567.39 563.77 L568.65 563.15 L569.91 562.69 L571.14 562.43 L572.36 562.40 L573.56 562.63 L574.72 563.11 L575.85 563.78 L576.95 564.61 L578.02 565.57 L579.06 566.60 L580.06 567.68 L581.03 568.76 L581.96 569.81 L582.87 570.86 L583.76 571.89 L584.63 572.91 L585.48 573.93 L586.34 574.96 L587.19 575.99 L588.06 577.04 L588.93 578.11 L589.83 579.21 L590.74 580.33 L591.69 581.48 L592.67 582.61 L593.67 583.72 L594.70 584.77 L595.77 585.73 L596.86 586.59 L597.98 587.31 L599.13 587.87 L600.32 588.24 L601.53 588.40 L602.78 588.33 L604.04 588.05 L605.31 587.60 L606.56 586.99 L607.79 586.27 L608.98 585.46 L610.12 584.59 L611.19 583.70 L612.20 582.78 L613.16 581.84 L614.06 580.89 L614.94 579.91 L615.79 578.91 L616.63 577.89 L617.46 576.84 L618.30 575.77 L619.16 574.66 L620.04 573.54 L620.96 572.38 L621.93 571.19 L622.96 569.99 L624.02 568.80 L625.12 567.68 L626.24 566.68 L627.37 565.84 L628.50 565.22 L629.60 564.85 L630.69 564.79 L631.73 565.06 L632.73 565.62 L633.70 566.41 L634.62 567.38 L635.50 568.48 L636.33 569.65 L637.12 570.86 L637.86 572.08 L638.56 573.31 L639.22 574.55 L639.85 575.80 L640.43 577.06 L640.98 578.33 L641.50 579.61 L641.99 580.90 L642.46 582.19 L642.89 583.49 L643.31 584.80 L643.70 586.11 L644.07 587.42 L644.43 588.74 L644.77 590.07 L645.09 591.39 L645.41 592.72 L645.72 594.05 L646.02 595.37 L646.32 596.70 L646.62 598.03 L646.91 599.36 L647.21 600.68 L647.51 602.00 L647.82 603.32 L648.14 604.63 L648.46 605.94 L648.80 607.24 L649.16 608.53 L649.53 609.82 L649.92 611.10 L650.34 612.38 L650.77 613.64 L651.23 614.89 L651.72 616.14 L652.23 617.38 L652.76 618.61 L653.30 619.84 L653.86 621.08 L654.42 622.31 L654.99 623.55 L655.56 624.80 L656.13 626.06 L656.69 627.33 L657.25 628.62 L657.79 629.93 L658.32 631.25 L658.83 632.60 L659.33 633.96 L659.83 635.31 L660.37 636.63 L660.95 637.90 L661.58 639.10 L662.30 640.21 L663.11 641.21 L664.04 642.09 L665.09 642.82 L666.26 643.41 L667.50 643.91 L668.81 644.31 L670.16 644.66 L671.52 644.96 L672.88 645.24 L674.24 645.49 L675.60 645.72 L676.95 645.93 L678.31 646.11 L679.67 646.28 L681.02 646.43 L682.38 646.57 L683.73 646.69 L685.08 646.80 L686.44 646.90 L687.79 646.98 L689.14 647.06 L690.49 647.13 L691.85 647.20 L693.20 647.26 L694.55 647.32 L695.91 647.38 L697.26 647.43 L698.62 647.49 L699.97 647.56 L701.33 647.62 L702.68 647.70 L704.04 647.78 L705.40 647.87 L706.76 647.96 L708.12 648.06 L709.48 648.16 L710.84 648.27 L712.20 648.37 L713.56 648.48 L714.92 648.58 L716.28 648.68 L717.64 648.78 L719.00 648.87 L720.36 648.95 L721.72 649.03 L723.08 649.09 L724.44 649.15 L725.80 649.20 L727.16 649.24 L728.52 649.26 L729.88 649.28 L731.24 649.28 L732.59 649.27 L733.95 649.25 L735.30 649.22 L736.65 649.17 L738.01 649.11 L739.36 649.03 L740.71 648.94 L742.06 648.84 L743.41 648.72 L744.75 648.58 L746.10 648.43 L747.44 648.26 L748.79 648.07 L750.13 647.86 L751.47 647.63 L752.81 647.39 L754.14 647.13 L755.48 646.84 L756.81 646.54 L758.14 646.21 L759.47 645.87 L760.80 645.50 L762.12 645.11 L763.45 644.71 L764.77 644.30 L766.09 643.88 L767.41 643.47 L768.72 643.06 L770.04 642.66 L771.35 642.28 L772.67 641.92 L773.98 641.58 L775.29 641.28 L776.60 641.01 L777.91 640.78 L779.22 640.60 L780.53 640.47 L781.84 640.40 L783.15 640.39 L784.46 640.45 L785.77 640.58 L787.08 640.79 L788.39 641.07 L789.70 641.44 L791.01 641.87 L792.31 642.35 L793.62 642.88 L794.93 643.43 L796.23 644.00 L797.53 644.56 L798.83 645.12 L800.12 645.66 L801.42 646.17 L802.71 646.66 L804.00 647.12 L805.29 647.55 L806.57 647.95 L807.86 648.33 L809.16 648.68 L810.45 648.99 L811.74 649.28 L813.04 649.54 L814.35 649.77 L815.66 649.97 L816.97 650.14 L818.29 650.27 L819.62 650.37 L820.95 650.44 L822.30 650.48 L823.65 650.48 L825.01 650.44 L826.38 650.38 L827.77 650.27 L829.16 650.13 L830.57 649.96 L831.99 649.74 L833.43 649.49 L834.87 649.20 L836.32 648.88 L837.74 648.51 L839.13 648.11 L840.47 647.67 L841.75 647.18 L842.94 646.66 L844.03 646.10 L845.00 645.50" fill="none" stroke="#0000ff" stroke-width="5.4" stroke-linejoin="round"/>
<path d="M65.52 271.87 L66.76 272.04 L68.03 272.20 L69.32 272.36 L70.61 272.52 L71.92 272.69 L73.22 272.88 L74.53 273.08 L75.83 273.32 L77.12 273.59 L78.40 273.90 L79.65 274.26 L80.89 274.67 L82.10 275.14 L83.28 275.66 L84.44 276.22 L85.57 276.84 L86.68 277.50 L87.76 278.20 L88.82 278.94 L89.86 279.72 L90.87 280.53 L91.85 281.37 L92.82 282.25 L93.76 283.15 L94.67 284.08 L95.57 285.03 L96.45 285.99 L97.32 286.96 L98.18 287.94 L99.04 288.92 L99.91 289.89 L100.78 290.85 L101.66 291.80 L102.56 292.72 L103.48 293.62 L104.43 294.49 L105.41 295.32 L106.42 296.10 L107.47 296.84 L108.56 297.53 L109.70 298.16 L110.90 298.73 L112.14 299.24 L113.41 299.72 L114.70 300.17 L116.00 300.60 L117.28 301.05 L118.55 301.52 L119.77 302.02 L120.95 302.58 L122.08 303.19 L123.15 303.85 L124.18 304.56 L125.18 305.32 L126.13 306.11 L127.05 306.95 L127.94 307.82 L128.81 308.72 L129.65 309.66 L130.47 310.61 L131.28 311.60 L132.07 312.60 L132.86 313.61 L133.64 314.64 L134.42 315.68 L135.21 316.73 L136.00 317.78 L136.80 318.83 L137.61 319.88 L138.45 320.92 L139.30 321.96 L140.18 322.98 L141.08 323.99 L142.02 324.98 L142.99 325.94 L143.99 326.88 L145.02 327.79 L146.08 328.66 L147.16 329.50 L148.26 330.29 L149.39 331.03 L150.53 331.72 L151.68 332.35 L152.85 332.91 L154.03 333.41 L155.22 333.84 L156.41 334.20 L157.60 334.47 L158.80 334.66 L159.99 334.77 L161.18 334.77 L162.37 334.68 L163.54 334.49 L164.71 334.19 L165.86 333.79 L167.00 333.28 L168.14 332.70 L169.26 332.04 L170.38 331.32 L171.50 330.55 L172.62 329.75 L173.74 328.92 L174.86 328.09 L175.99 327.26 L177.12 326.44 L178.26 325.66 L179.42 324.91 L180.59 324.21 L181.77 323.58 L182.96 323.03 L184.16 322.57 L185.38 322.21 L186.61 321.96 L187.85 321.84 L189.11 321.85 L190.37 321.99 L191.64 322.23 L192.92 322.56 L194.20 322.98 L195.47 323.45 L196.74 323.96 L198.01 324.50 L199.26 325.05 L200.49 325.60 L201.72 326.14 L202.93 326.68 L204.13 327.21 L205.33 327.73 L206.51 328.24 L207.70 328.73 L208.88 329.21 L210.06 329.68 L211.24 330.12 L212.42 330.55 L213.60 330.95 L214.78 331.33 L215.98 331.69 L217.18 332.01 L218.38 332.31 L219.60 332.58 L220.83 332.82 L222.07 333.02 L223.33 333.19 L224.61 333.32 L225.90 333.41 L227.21 333.46 L228.54 333.47 L229.90 333.43 L231.27 333.36 L232.65 333.26 L234.03 333.17 L235.40 333.08 L236.75 333.02 L238.08 333.00 L239.37 333.04 L240.62 333.15 L241.82 333.35 L242.95 333.65 L244.02 334.07 L245.00 334.63 L245.90 335.33 L246.70 336.19 L247.43 337.18 L248.09 338.29 L248.69 339.48 L249.24 340.75 L249.75 342.07 L250.24 343.42 L250.71 344.78 L251.18 346.13 L251.65 347.46 L252.11 348.78 L252.57 350.08 L253.03 351.37 L253.49 352.64 L253.95 353.91 L254.40 355.16 L254.85 356.41 L255.30 357.64 L255.75 358.87 L256.19 360.09 L256.63 361.30 L257.07 362.51 L257.50 363.71 L257.93 364.90 L258.36 366.10 L258.79 367.29 L259.21 368.48 L259.63 369.66 L260.04 370.85 L260.45 372.04 L260.86 373.23 L261.26 374.43 L261.66 375.62 L262.05 376.82 L262.44 378.03 L262.83 379.24 L263.21 380.46 L263.59 381.68 L263.96 382.92 L264.33 384.16 L264.70 385.41 L265.06 386.67 L265.42 387.94 L265.78 389.21 L266.15 390.49 L266.52 391.77 L266.89 393.05 L267.28 394.33 L267.68 395.60 L268.09 396.87 L268.51 398.14 L268.95 399.40 L269.41 400.65 L269.89 401.89 L270.39 403.12 L270.92 404.34 L271.47 405.54 L272.04 406.73 L272.65 407.90 L273.29 409.05 L273.96 410.18 L274.67 411.29 L275.42 412.38 L276.20 413.44 L277.03 414.47 L277.90 415.47 L278.80 416.40 L279.75 417.21 L280.73 417.86 L281.74 418.29 L282.78 418.47 L283.85 418.40 L284.94 418.10 L286.05 417.62 L287.19 416.97 L288.33 416.19 L289.50 415.32 L290.67 414.39 L291.86 413.42 L293.05 412.45 L294.25 411.51 L295.46 410.63 L296.66 409.84 L297.86 409.18 L299.06 408.67 L300.25 408.34 L301.43 408.24 L302.60 408.38 L303.76 408.74 L304.89 409.29 L305.99 410.00 L307.05 410.83 L308.07 411.75 L309.04 412.72 L309.95 413.72 L310.81 414.72 L311.63 415.73 L312.41 416.76 L313.17 417.79 L313.91 418.84 L314.65 419.91 L315.40 420.99 L316.17 422.10 L316.96 423.22 L317.79 424.37 L318.67 425.53 L319.59 426.68 L320.53 427.75 L321.49 428.72 L322.45 429.53 L323.41 430.13 L324.34 430.48 L325.25 430.54 L326.12 430.30 L326.96 429.79 L327.76 429.05 L328.52 428.11 L329.26 427.00 L329.95 425.76 L330.62 424.42 L331.25 423.02 L331.85 421.58 L332.42 420.15 L332.95 418.73 L333.46 417.32 L333.94 415.92 L334.38 414.54 L334.81 413.18 L335.20 411.82 L335.58 410.48 L335.93 409.14 L336.26 407.82 L336.57 406.51 L336.87 405.21 L337.15 403.91 L337.41 402.63 L337.66 401.35 L337.90 400.09 L338.12 398.83 L338.34 397.57 L338.55 396.33 L338.75 395.09 L338.94 393.85 L339.13 392.62 L339.32 391.40 L339.51 390.18 L339.69 388.96 L339.88 387.75 L340.07 386.53 L340.27 385.33 L340.47 384.12 L340.68 382.91 L340.89 381.71 L341.12 380.50 L341.35 379.30 L341.60 378.10 L341.86 376.89 L342.14 375.68 L342.43 374.48 L342.75 373.26 L343.08 372.05 L343.43 370.83 L343.80 369.61 L344.20 368.39 L344.62 367.16 L345.06 365.92 L345.52 364.67 L346.00 363.41 L346.49 362.12 L346.97 360.80 L347.46 359.46 L347.94 358.08 L348.40 356.65 L348.85 355.18 L349.28 353.66 L349.69 352.11 L350.09 350.57 L350.51 349.10 L350.95 347.75 L351.44 346.55 L351.98 345.56 L352.59 344.83 L353.29 344.40 L354.09 344.32 L354.98 344.60 L355.95 345.18 L356.95 346.01 L357.97 347.01 L358.96 348.13 L359.90 349.31 L360.77 350.50 L361.57 351.69 L362.30 352.87 L362.96 354.05 L363.58 355.23 L364.14 356.42 L364.66 357.60 L365.15 358.78 L365.61 359.97 L366.06 361.16 L366.48 362.35 L366.90 363.54 L367.31 364.74 L367.72 365.95 L368.13 367.16 L368.54 368.37 L368.94 369.59 L369.34 370.81 L369.74 372.03 L370.13 373.26 L370.53 374.49 L370.92 375.72 L371.31 376.96 L371.70 378.20 L372.08 379.44 L372.47 380.69 L372.85 381.93 L373.23 383.18 L373.61 384.43 L373.99 385.68 L374.36 386.94 L374.74 388.19 L375.11 389.45 L375.48 390.71 L375.86 391.97 L376.23 393.22 L376.60 394.48 L376.97 395.74 L377.33 397.00 L377.70 398.26 L378.07 399.52 L378.44 400.78 L378.80 402.04 L379.17 403.30 L379.54 404.56 L379.90 405.82 L380.27 407.07 L380.64 408.33 L381.00 409.58 L381.37 410.84 L381.74 412.09 L382.11 413.33 L382.48 414.58 L382.85 415.82 L383.22 417.07 L383.59 418.31 L383.96 419.54 L384.33 420.77 L384.70 422.01 L385.08 423.23 L385.46 424.46 L385.83 425.68 L386.21 426.89 L386.59 428.11 L386.98 429.31 L387.36 430.52 L387.75 431.72 L388.13 432.92 L388.53 434.11 L388.93 435.30 L389.33 436.50 L389.75 437.70 L390.18 438.90 L390.62 440.11 L391.07 441.33 L391.54 442.56 L392.03 443.81 L392.54 445.06 L393.07 446.33 L393.63 447.62 L394.20 448.93 L394.81 450.26 L395.44 451.60 L396.11 452.92 L396.81 454.15 L397.55 455.24 L398.34 456.12 L399.17 456.74 L400.06 457.02 L400.99 456.94 L401.97 456.53 L402.96 455.83 L403.96 454.91 L404.94 453.82 L405.89 452.61 L406.80 451.34 L407.63 450.05 L408.40 448.78 L409.10 447.52 L409.74 446.27 L410.34 445.04 L410.89 443.82 L411.41 442.61 L411.90 441.42 L412.37 440.23 L412.83 439.06 L413.28 437.90 L413.73 436.74 L414.19 435.60 L414.66 434.46 L415.16 433.33 L415.69 432.21 L416.25 431.10 L416.86 429.99 L417.52 428.89 L418.24 427.79 L419.02 426.70 L419.88 425.61 L420.81 424.54 L421.81 423.53 L422.87 422.63 L423.97 421.86 L425.10 421.29 L426.26 420.96 L427.43 420.89 L428.60 421.11 L429.77 421.57 L430.94 422.21 L432.08 422.99 L433.21 423.86 L434.30 424.78 L435.36 425.70 L436.39 426.60 L437.38 427.49 L438.36 428.37 L439.33 429.24 L440.28 430.09 L441.24 430.94 L442.20 431.77 L443.17 432.59 L444.16 433.40 L445.16 434.21 L446.17 435.01 L447.18 435.82 L448.20 436.62 L449.22 437.42 L450.23 438.24 L451.24 439.06 L452.24 439.89 L453.22 440.74 L454.18 441.60 L455.13 442.49 L456.06 443.38 L456.97 444.30 L457.86 445.23 L458.73 446.18 L459.59 447.14 L460.44 448.12 L461.27 449.11 L462.08 450.11 L462.88 451.13 L463.67 452.16 L464.44 453.20 L465.20 454.25 L465.95 455.31 L466.69 456.38 L467.41 457.47 L468.13 458.56 L468.83 459.66 L469.53 460.76 L470.21 461.88 L470.89 463.00 L471.56 464.12 L472.22 465.26 L472.87 466.39 L473.52 467.54 L474.16 468.68 L474.80 469.83 L475.43 470.98 L476.06 472.14 L476.68 473.30 L477.30 474.45 L477.91 475.61 L478.53 476.77 L479.14 477.93 L479.74 479.09 L480.35 480.24 L480.96 481.40 L481.57 482.55 L482.17 483.70 L482.78 484.84 L483.39 485.98 L484.00 487.12 L484.62 488.25 L485.24 489.38 L485.86 490.51 L486.49 491.63 L487.13 492.75 L487.77 493.86 L488.42 494.97 L489.08 496.08 L489.75 497.18 L490.43 498.28 L491.12 499.37 L491.82 500.46 L492.53 501.54 L493.26 502.62 L494.00 503.69 L494.76 504.76 L495.53 505.83 L496.31 506.89 L497.12 507.95 L497.94 509.00 L498.78 510.05 L499.65 511.09 L500.53 512.13 L501.43 513.16 L502.36 514.17 L503.31 515.11 L504.29 515.94 L505.31 516.64 L506.36 517.16 L507.45 517.47 L508.58 517.54 L509.75 517.34 L510.95 516.91 L512.15 516.30 L513.36 515.55 L514.54 514.69 L515.69 513.77 L516.79 512.82 L517.84 511.89 L518.83 510.97 L519.79 510.07 L520.74 509.20 L521.68 508.34 L522.65 507.51 L523.65 506.70 L524.69 505.91 L525.81 505.15 L526.98 504.43 L528.19 503.79 L529.44 503.25 L530.69 502.83 L531.94 502.57 L533.16 502.49 L534.35 502.62 L535.50 502.94 L536.61 503.43 L537.70 504.06 L538.77 504.81 L539.83 505.64 L540.87 506.53 L541.91 507.46 L542.95 508.39 L544.00 509.31 L545.06 510.18 L546.14 510.99 L547.23 511.74 L548.32 512.45 L549.42 513.14 L550.52 513.81 L551.62 514.48 L552.70 515.17 L553.77 515.88 L554.83 516.61 L555.87 517.36 L556.90 518.14 L557.92 518.94 L558.92 519.75 L559.90 520.59 L560.87 521.45 L561.82 522.33 L562.75 523.23 L563.66 524.15 L564.56 525.08 L565.43 526.04 L566.28 527.01 L567.12 528.00 L567.93 529.01 L568.72 530.04 L569.49 531.08 L570.23 532.14 L570.95 533.22 L571.65 534.31 L572.32 535.42 L572.97 536.55 L573.59 537.69 L574.18 538.84 L574.75 540.01 L575.29 541.19 L575.81 542.38 L576.31 543.59 L576.79 544.80 L577.26 546.03 L577.71 547.26 L578.15 548.49 L578.57 549.74 L578.99 550.99 L579.39 552.24 L579.80 553.49 L580.20 554.75 L580.59 556.00 L580.99 557.26 L581.39 558.51 L581.80 559.76 L582.20 561.00 L582.62 562.24 L583.05 563.48 L583.49 564.70 L583.94 565.92 L584.40 567.13 L584.89 568.33 L585.39 569.51 L585.91 570.69 L586.45 571.85 L587.00 573.00 L587.57 574.15 L588.13 575.30 L588.71 576.44 L589.28 577.59 L589.84 578.74 L590.40 579.90 L590.95 581.06 L591.47 582.24 L591.98 583.43 L592.47 584.63 L592.95 585.85 L593.41 587.07 L593.86 588.30 L594.30 589.54 L594.73 590.78 L595.16 592.03 L595.58 593.28 L596.00 594.53 L596.43 595.79 L596.85 597.04 L597.28 598.28 L597.72 599.52 L598.17 600.76 L598.64 601.99 L599.11 603.21 L599.60 604.42 L600.12 605.62 L600.65 606.81 L601.20 607.98 L601.78 609.13 L602.38 610.27 L603.02 611.39 L603.69 612.49 L604.39 613.57 L605.12 614.63 L605.90 615.66 L606.71 616.66 L607.55 617.64 L608.43 618.59 L609.35 619.51 L610.29 620.39 L611.27 621.24 L612.28 622.06 L613.32 622.83 L614.39 623.57 L615.49 624.27 L616.62 624.92 L617.77 625.53 L618.95 626.09 L620.15 626.61 L621.38 627.07 L622.62 627.49 L623.88 627.88 L625.14 628.27 L626.39 628.66 L627.62 629.09 L628.82 629.57 L629.98 630.11 L631.10 630.75 L632.16 631.47 L633.19 632.27 L634.18 633.14 L635.14 634.06 L636.08 635.01 L637.00 635.98 L637.93 636.96 L638.85 637.93 L639.78 638.88 L640.73 639.80 L641.70 640.66 L642.70 641.47 L643.74 642.19 L644.83 642.82 L645.96 643.36 L647.13 643.81 L648.35 644.19 L649.59 644.50 L650.86 644.75 L652.15 644.96 L653.46 645.13 L654.78 645.28 L656.11 645.41 L657.44 645.53 L658.76 645.65 L660.08 645.78 L661.40 645.91 L662.72 646.03 L664.03 646.16 L665.34 646.29 L666.65 646.42 L667.96 646.55 L669.26 646.68 L670.56 646.81 L671.86 646.94 L673.16 647.07 L674.46 647.20 L675.75 647.33 L677.05 647.47 L678.34 647.60 L679.63 647.73 L680.92 647.86 L682.21 647.99 L683.49 648.12 L684.78 648.25 L686.07 648.38 L687.35 648.51 L688.64 648.64 L689.92 648.77 L691.20 648.89 L692.49 649.02 L693.77 649.14 L695.05 649.24 L696.33 649.32 L697.61 649.37 L698.88 649.39 L700.15 649.35 L701.42 649.26 L702.68 649.10 L703.94 648.87 L705.19 648.57 L706.44 648.20 L707.68 647.78 L708.91 647.31 L710.14 646.79 L711.37 646.24 L712.60 645.65 L713.82 645.04 L715.04 644.40 L716.25 643.76 L717.46 643.11 L718.68 642.46 L719.88 641.81 L721.09 641.18 L722.30 640.57 L723.50 639.98 L724.71 639.42 L725.91 638.91 L727.12 638.43 L728.32 638.01 L729.53 637.65 L730.73 637.35 L731.94 637.12 L733.15 636.97 L734.36 636.90 L735.57 636.92 L736.78 637.03 L738.00 637.24 L739.21 637.52 L740.43 637.88 L741.65 638.31 L742.87 638.79 L744.09 639.31 L745.31 639.88 L746.52 640.47 L747.74 641.08 L748.95 641.70 L750.16 642.33 L751.37 642.95 L752.57 643.55 L753.77 644.12 L754.96 644.67 L756.15 645.17 L757.33 645.63 L758.51 646.04 L759.70 646.41 L760.89 646.73 L762.08 647.02 L763.28 647.25 L764.50 647.45 L765.73 647.60 L766.97 647.71 L768.24 647.78 L769.51 647.81 L770.80 647.82 L772.09 647.79 L773.40 647.74 L774.71 647.66 L776.03 647.57 L777.36 647.46 L778.69 647.35 L780.02 647.22 L781.35 647.09 L782.67 646.96 L784.00 646.83 L785.32 646.71 L786.63 646.60 L787.94 646.50 L789.24 646.42 L790.53 646.36 L791.82 646.30 L793.10 646.26 L794.37 646.23 L795.65 646.21 L796.92 646.19 L798.20 646.17 L799.48 646.16 L800.76 646.14 L802.05 646.13 L803.33 646.12 L804.62 646.10 L805.92 646.09 L807.21 646.08 L808.51 646.07 L809.81 646.06 L811.11 646.05 L812.41 646.04 L813.72 646.03 L815.03 646.03 L816.33 646.02 L817.64 646.02 L818.95 646.02 L820.26 646.02 L821.57 646.02 L822.88 646.03 L824.19 646.03 L825.50 646.04 L826.81 646.05 L828.11 646.06 L829.42 646.08 L830.73 646.10 L832.03 646.12 L833.34 646.14 L834.64 646.16 L835.94 646.19 L837.24 646.23 L838.54 646.26 L839.83 646.30 L841.13 646.34 L842.42 646.38 L843.70 646.43 L844.99 646.48" fill="none" stroke="#ff0000" stroke-width="5.4" stroke-linejoin="round"/>
<path d="M70.12 98.41 L71.31 98.99 L72.49 99.59 L73.64 100.22 L74.76 100.87 L75.87 101.54 L76.95 102.22 L78.01 102.93 L79.05 103.66 L80.07 104.41 L81.07 105.18 L82.05 105.97 L83.01 106.78 L83.95 107.60 L84.87 108.44 L85.78 109.30 L86.66 110.17 L87.53 111.06 L88.38 111.97 L89.22 112.89 L90.04 113.83 L90.84 114.78 L91.63 115.74 L92.41 116.72 L93.17 117.71 L93.91 118.72 L94.65 119.73 L95.37 120.76 L96.07 121.80 L96.77 122.85 L97.45 123.91 L98.12 124.98 L98.78 126.06 L99.43 127.15 L100.07 128.25 L100.70 129.36 L101.32 130.47 L101.93 131.59 L102.53 132.72 L103.13 133.86 L103.71 135.00 L104.29 136.15 L104.87 137.30 L105.43 138.46 L105.99 139.62 L106.55 140.78 L107.10 141.95 L107.64 143.13 L108.18 144.30 L108.72 145.48 L109.25 146.66 L109.78 147.84 L110.31 149.02 L110.83 150.20 L111.36 151.38 L111.88 152.57 L112.40 153.75 L112.92 154.93 L113.44 156.11 L113.96 157.28 L114.48 158.46 L115.00 159.63 L115.53 160.79 L116.05 161.96 L116.58 163.12 L117.11 164.27 L117.65 165.42 L118.19 166.56 L118.74 167.70 L119.29 168.84 L119.86 169.96 L120.43 171.08 L121.01 172.19 L121.61 173.29 L122.21 174.39 L122.83 175.48 L123.47 176.55 L124.11 177.62 L124.78 178.68 L125.46 179.73 L126.15 180.77 L126.87 181.80 L127.60 182.81 L128.36 183.82 L129.13 184.81 L129.93 185.79 L130.75 186.75 L131.59 187.71 L132.46 188.65 L133.34 189.58 L134.23 190.49 L135.15 191.40 L136.07 192.29 L137.01 193.17 L137.96 194.03 L138.92 194.89 L139.89 195.73 L140.86 196.56 L141.84 197.38 L142.82 198.18 L143.80 198.98 L144.78 199.77 L145.76 200.56 L146.72 201.36 L147.67 202.18 L148.59 203.01 L149.50 203.86 L150.38 204.74 L151.25 205.64 L152.10 206.56 L152.95 207.49 L153.80 208.43 L154.65 209.39 L155.52 210.34 L156.40 211.30 L157.29 212.25 L158.22 213.20 L159.17 214.13 L160.16 215.06 L161.19 215.96 L162.25 216.83 L163.33 217.66 L164.44 218.45 L165.57 219.17 L166.72 219.83 L167.88 220.42 L169.05 220.92 L170.22 221.33 L171.40 221.64 L172.58 221.83 L173.75 221.91 L174.92 221.86 L176.08 221.68 L177.23 221.38 L178.37 220.97 L179.50 220.46 L180.63 219.87 L181.75 219.20 L182.87 218.46 L183.98 217.67 L185.09 216.83 L186.19 215.96 L187.30 215.06 L188.40 214.15 L189.50 213.24 L190.61 212.33 L191.71 211.45 L192.82 210.59 L193.93 209.77 L195.04 208.99 L196.15 208.28 L197.27 207.64 L198.40 207.08 L199.53 206.61 L200.67 206.25 L201.82 205.99 L202.98 205.86 L204.14 205.86 L205.32 206.01 L206.50 206.30 L207.67 206.71 L208.82 207.25 L209.95 207.88 L211.03 208.61 L212.07 209.41 L213.04 210.27 L213.94 211.19 L214.77 212.15 L215.55 213.16 L216.27 214.20 L216.95 215.28 L217.59 216.39 L218.19 217.53 L218.77 218.68 L219.32 219.86 L219.86 221.04 L220.39 222.24 L220.91 223.44 L221.44 224.63 L221.97 225.83 L222.52 227.01 L223.09 228.18 L223.68 229.34 L224.29 230.49 L224.91 231.62 L225.54 232.75 L226.19 233.86 L226.85 234.96 L227.52 236.05 L228.20 237.14 L228.88 238.21 L229.57 239.28 L230.27 240.34 L230.96 241.40 L231.66 242.44 L232.35 243.49 L233.04 244.52 L233.73 245.56 L234.41 246.58 L235.09 247.61 L235.75 248.63 L236.41 249.65 L237.05 250.67 L237.69 251.69 L238.33 252.71 L238.96 253.73 L239.59 254.76 L240.22 255.80 L240.86 256.84 L241.49 257.88 L242.14 258.94 L242.79 260.01 L243.45 261.08 L244.12 262.17 L244.80 263.28 L245.50 264.40 L246.21 265.54 L246.94 266.69 L247.69 267.86 L248.46 269.06 L249.26 270.27 L250.07 271.51 L250.91 272.75 L251.77 273.97 L252.65 275.16 L253.54 276.30 L254.45 277.37 L255.37 278.35 L256.29 279.22 L257.22 279.96 L258.15 280.55 L259.09 280.97 L260.02 281.21 L260.95 281.25 L261.87 281.08 L262.79 280.73 L263.71 280.22 L264.62 279.54 L265.52 278.73 L266.43 277.79 L267.33 276.75 L268.22 275.61 L269.11 274.39 L270.00 273.11 L270.89 271.78 L271.77 270.42 L272.65 269.04 L273.52 267.66 L274.40 266.29 L275.27 264.95 L276.15 263.66 L277.03 262.43 L277.91 261.27 L278.80 260.21 L279.69 259.25 L280.60 258.43 L281.51 257.74 L282.44 257.21 L283.38 256.85 L284.33 256.67 L285.30 256.71 L286.28 256.95 L287.27 257.38 L288.27 257.98 L289.26 258.72 L290.24 259.59 L291.20 260.56 L292.14 261.61 L293.06 262.72 L293.93 263.87 L294.77 265.03 L295.56 266.19 L296.30 267.35 L297.00 268.51 L297.67 269.66 L298.30 270.82 L298.89 271.98 L299.46 273.14 L299.99 274.30 L300.50 275.46 L300.98 276.62 L301.45 277.78 L301.89 278.95 L302.32 280.11 L302.73 281.28 L303.13 282.46 L303.53 283.63 L303.91 284.81 L304.30 286.00 L304.68 287.18 L305.06 288.38 L305.44 289.57 L305.82 290.77 L306.20 291.97 L306.59 293.18 L306.98 294.38 L307.38 295.59 L307.78 296.80 L308.19 298.00 L308.60 299.21 L309.03 300.41 L309.46 301.62 L309.90 302.82 L310.34 304.01 L310.80 305.21 L311.27 306.40 L311.75 307.58 L312.25 308.76 L312.75 309.93 L313.27 311.10 L313.81 312.26 L314.36 313.41 L314.93 314.55 L315.51 315.69 L316.11 316.82 L316.73 317.93 L317.37 319.04 L318.03 320.13 L318.70 321.21 L319.40 322.29 L320.12 323.34 L320.87 324.39 L321.63 325.42 L322.43 326.44 L323.24 327.44 L324.08 328.42 L324.95 329.39 L325.84 330.35 L326.77 331.28 L327.71 332.18 L328.69 333.04 L329.70 333.84 L330.74 334.58 L331.80 335.23 L332.90 335.78 L334.02 336.23 L335.18 336.56 L336.36 336.76 L337.58 336.81 L338.83 336.75 L340.09 336.60 L341.37 336.40 L342.66 336.18 L343.95 335.98 L345.23 335.82 L346.51 335.74 L347.77 335.78 L349.01 335.95 L350.23 336.25 L351.42 336.66 L352.58 337.17 L353.71 337.76 L354.80 338.43 L355.85 339.15 L356.86 339.91 L357.83 340.71 L358.77 341.55 L359.67 342.42 L360.53 343.33 L361.37 344.27 L362.17 345.24 L362.95 346.23 L363.70 347.25 L364.43 348.30 L365.14 349.36 L365.82 350.44 L366.49 351.54 L367.15 352.66 L367.79 353.78 L368.42 354.92 L369.04 356.06 L369.65 357.21 L370.26 358.37 L370.86 359.52 L371.46 360.67 L372.06 361.83 L372.67 362.97 L373.28 364.11 L373.89 365.25 L374.52 366.37 L375.15 367.48 L375.78 368.58 L376.43 369.68 L377.07 370.77 L377.72 371.85 L378.38 372.93 L379.04 374.00 L379.70 375.07 L380.36 376.14 L381.02 377.20 L381.69 378.26 L382.35 379.32 L383.01 380.39 L383.68 381.45 L384.34 382.51 L384.99 383.58 L385.65 384.64 L386.30 385.72 L386.95 386.79 L387.59 387.87 L388.23 388.96 L388.86 390.06 L389.48 391.16 L390.09 392.27 L390.70 393.39 L391.30 394.51 L391.89 395.65 L392.47 396.80 L393.04 397.97 L393.60 399.14 L394.15 400.33 L394.68 401.53 L395.21 402.74 L395.73 403.96 L396.25 405.18 L396.77 406.40 L397.30 407.61 L397.83 408.82 L398.37 410.01 L398.93 411.19 L399.50 412.36 L400.10 413.50 L400.71 414.62 L401.35 415.71 L402.02 416.77 L402.72 417.79 L403.45 418.78 L404.22 419.73 L405.02 420.64 L405.86 421.52 L406.72 422.37 L407.62 423.19 L408.54 423.97 L409.49 424.74 L410.46 425.47 L411.46 426.19 L412.49 426.88 L413.54 427.55 L414.61 428.21 L415.69 428.85 L416.80 429.47 L417.93 430.08 L419.07 430.68 L420.23 431.27 L421.40 431.86 L422.58 432.44 L423.77 433.03 L424.94 433.62 L426.11 434.23 L427.25 434.86 L428.36 435.52 L429.43 436.21 L430.46 436.93 L431.46 437.69 L432.41 438.48 L433.33 439.30 L434.22 440.16 L435.07 441.04 L435.88 441.95 L436.67 442.89 L437.43 443.86 L438.16 444.85 L438.86 445.86 L439.54 446.89 L440.19 447.95 L440.82 449.03 L441.43 450.12 L442.02 451.23 L442.59 452.36 L443.15 453.50 L443.69 454.66 L444.22 455.83 L444.73 457.01 L445.23 458.20 L445.73 459.40 L446.21 460.60 L446.69 461.82 L447.17 463.03 L447.64 464.26 L448.10 465.48 L448.57 466.71 L449.04 467.94 L449.50 469.16 L449.98 470.39 L450.45 471.61 L450.93 472.82 L451.43 474.04 L451.92 475.24 L452.43 476.44 L452.96 477.62 L453.49 478.80 L454.04 479.96 L454.60 481.11 L455.19 482.25 L455.79 483.37 L456.41 484.48 L457.06 485.57 L457.72 486.63 L458.41 487.68 L459.13 488.71 L459.88 489.71 L460.65 490.70 L461.46 491.65 L462.29 492.58 L463.16 493.48 L464.06 494.36 L464.98 495.23 L465.91 496.07 L466.86 496.91 L467.83 497.73 L468.79 498.56 L469.76 499.38 L470.72 500.20 L471.68 501.04 L472.62 501.88 L473.54 502.74 L474.45 503.61 L475.32 504.51 L476.17 505.43 L476.98 506.38 L477.76 507.36 L478.50 508.37 L479.21 509.41 L479.89 510.47 L480.54 511.55 L481.17 512.65 L481.78 513.78 L482.37 514.91 L482.94 516.06 L483.51 517.22 L484.06 518.39 L484.60 519.56 L485.14 520.74 L485.68 521.92 L486.22 523.10 L486.76 524.27 L487.31 525.44 L487.87 526.60 L488.44 527.75 L489.03 528.90 L489.63 530.02 L490.26 531.13 L490.90 532.22 L491.58 533.29 L492.28 534.33 L493.01 535.35 L493.78 536.34 L494.58 537.30 L495.42 538.22 L496.31 539.09 L497.23 539.92 L498.21 540.68 L499.23 541.37 L500.30 541.99 L501.42 542.54 L502.59 543.02 L503.77 543.47 L504.97 543.91 L506.16 544.37 L507.32 544.87 L508.45 545.43 L509.53 546.07 L510.56 546.78 L511.53 547.55 L512.46 548.38 L513.33 549.26 L514.14 550.19 L514.89 551.16 L515.59 552.18 L516.24 553.24 L516.84 554.33 L517.40 555.45 L517.92 556.60 L518.41 557.78 L518.86 558.98 L519.28 560.21 L519.68 561.45 L520.05 562.70 L520.41 563.97 L520.75 565.25 L521.07 566.53 L521.39 567.81 L521.71 569.09 L522.02 570.37 L522.33 571.65 L522.65 572.91 L522.97 574.16 L523.29 575.41 L523.63 576.65 L523.96 577.88 L524.30 579.10 L524.64 580.32 L524.99 581.53 L525.34 582.74 L525.70 583.94 L526.06 585.14 L526.42 586.33 L526.78 587.52 L527.15 588.70 L527.52 589.89 L527.89 591.07 L528.26 592.25 L528.64 593.44 L529.01 594.62 L529.39 595.80 L529.77 596.98 L530.15 598.17 L530.54 599.35 L530.92 600.54 L531.30 601.74 L531.69 602.93 L532.07 604.13 L532.46 605.34 L532.84 606.55 L533.23 607.77 L533.61 608.99 L534.00 610.22 L534.38 611.46 L534.76 612.71 L535.14 613.96 L535.52 615.23 L535.90 616.50 L536.28 617.78 L536.65 619.07 L537.04 620.36 L537.44 621.65 L537.86 622.92 L538.31 624.18 L538.79 625.42 L539.31 626.62 L539.88 627.79 L540.49 628.92 L541.17 630.00 L541.91 631.02 L542.71 631.99 L543.59 632.89 L544.55 633.71 L545.56 634.43 L546.61 635.01 L547.70 635.44 L548.81 635.70 L549.92 635.75 L551.04 635.60 L552.16 635.27 L553.28 634.79 L554.40 634.17 L555.52 633.45 L556.65 632.66 L557.78 631.82 L558.91 630.95 L560.06 630.09 L561.20 629.25 L562.35 628.45 L563.50 627.70 L564.65 627.02 L565.79 626.43 L566.93 625.93 L568.06 625.55 L569.18 625.29 L570.28 625.19 L571.37 625.24 L572.45 625.44 L573.51 625.79 L574.57 626.27 L575.61 626.86 L576.65 627.55 L577.68 628.32 L578.72 629.15 L579.75 630.03 L580.79 630.95 L581.83 631.89 L582.87 632.83 L583.93 633.76 L585.00 634.66 L586.08 635.52 L587.17 636.33 L588.29 637.06 L589.42 637.70 L590.58 638.24 L591.75 638.67 L592.95 638.99 L594.16 639.23 L595.39 639.39 L596.63 639.49 L597.87 639.54 L599.12 639.54 L600.37 639.51 L601.62 639.47 L602.87 639.41 L604.11 639.34 L605.35 639.27 L606.59 639.19 L607.83 639.12 L609.07 639.04 L610.31 638.98 L611.55 638.92 L612.79 638.88 L614.03 638.85 L615.27 638.84 L616.51 638.86 L617.75 638.90 L619.00 638.97 L620.25 639.07 L621.50 639.20 L622.76 639.38 L624.01 639.59 L625.28 639.85 L626.54 640.16 L627.81 640.51 L629.09 640.89 L630.36 641.30 L631.63 641.71 L632.89 642.13 L634.15 642.53 L635.40 642.91 L636.64 643.26 L637.87 643.56 L639.09 643.81 L640.29 643.99 L641.47 644.10 L642.63 644.12 L643.77 644.03 L644.89 643.84 L645.98 643.53 L647.04 643.09 L648.08 642.51 L649.08 641.79 L650.06 640.94 L651.02 639.99 L651.96 638.96 L652.89 637.86 L653.81 636.72 L654.72 635.55 L655.63 634.37 L656.54 633.20 L657.46 632.06 L658.38 630.96 L659.31 629.93 L660.26 628.97 L661.22 628.10 L662.20 627.34 L663.20 626.71 L664.22 626.22 L665.27 625.89 L666.35 625.73 L667.45 625.75 L668.58 625.95 L669.72 626.31 L670.86 626.80 L671.98 627.41 L673.08 628.11 L674.15 628.88 L675.16 629.71 L676.13 630.58 L677.07 631.49 L677.97 632.43 L678.85 633.40 L679.71 634.38 L680.56 635.37 L681.41 636.37 L682.27 637.36 L683.14 638.34 L684.04 639.31 L684.95 640.25 L685.89 641.17 L686.86 642.05 L687.84 642.90 L688.85 643.70 L689.88 644.46 L690.93 645.17 L692.00 645.83 L693.09 646.43 L694.20 646.96 L695.33 647.43 L696.48 647.82 L697.65 648.14 L698.84 648.38 L700.04 648.53 L701.26 648.58 L702.49 648.55 L703.74 648.42 L705.00 648.22 L706.27 647.95 L707.55 647.64 L708.83 647.29 L710.12 646.91 L711.41 646.53 L712.69 646.15 L713.97 645.78 L715.24 645.45 L716.51 645.14 L717.77 644.85 L719.02 644.59 L720.28 644.36 L721.52 644.15 L722.77 643.96 L724.02 643.79 L725.26 643.65 L726.50 643.53 L727.75 643.42 L728.99 643.34 L730.24 643.28 L731.48 643.23 L732.74 643.21 L733.99 643.20 L735.25 643.20 L736.51 643.23 L737.78 643.26 L739.05 643.32 L740.34 643.38 L741.63 643.46 L742.92 643.55 L744.21 643.63 L745.51 643.68 L746.79 643.69 L748.06 643.65 L749.31 643.54 L750.53 643.34 L751.73 643.05 L752.90 642.64 L754.04 642.13 L755.16 641.55 L756.27 640.91 L757.37 640.23 L758.48 639.54 L759.60 638.86 L760.73 638.21 L761.90 637.61 L763.09 637.08 L764.31 636.63 L765.55 636.26 L766.80 635.96 L768.06 635.75 L769.33 635.61 L770.59 635.56 L771.83 635.59 L773.06 635.71 L774.27 635.91 L775.46 636.20 L776.63 636.55 L777.79 636.98 L778.93 637.46 L780.05 637.99 L781.17 638.57 L782.27 639.19 L783.37 639.85 L784.46 640.53 L785.55 641.22 L786.63 641.93 L787.72 642.65 L788.80 643.37 L789.89 644.08 L790.98 644.77 L792.08 645.44 L793.18 646.09 L794.30 646.70 L795.43 647.27 L796.57 647.79 L797.73 648.26 L798.90 648.67 L800.09 649.01 L801.30 649.29 L802.52 649.51 L803.76 649.67 L805.02 649.79 L806.28 649.86 L807.56 649.89 L808.84 649.89 L810.13 649.86 L811.43 649.80 L812.74 649.72 L814.05 649.63 L815.36 649.53 L816.67 649.42 L817.99 649.32 L819.30 649.21 L820.61 649.12 L821.91 649.04 L823.21 648.98 L824.50 648.94 L825.79 648.93 L827.06 648.95 L828.33 649.01 L829.58 649.08 L830.83 649.15 L832.07 649.19 L833.30 649.20 L834.53 649.15 L835.76 649.03 L836.97 648.81 L838.19 648.51 L839.39 648.11 L840.57 647.63 L841.74 647.07 L842.87 646.45 L843.98 645.75 L845.05 645.00 L846.09 644.20 L847.07 643.34 L848.01 642.45" fill="none" stroke="#000000" stroke-width="5.4" stroke-linejoin="round"/>
<line x1="451" y1="650" x2="451" y2="38" stroke="#0000ff" stroke-width="4" stroke-dasharray="13.5 13.5"/>
<line x1="500" y1="650" x2="500" y2="38" stroke="#000000" stroke-width="4" stroke-dasharray="13.5 13.5"/>
<line x1="575" y1="650" x2="575" y2="38" stroke="#ff0000" stroke-width="4" stroke-dasharray="13.5 13.5"/>
<g font-family='"Liberation Sans", sans-serif' font-size="25" fill="#262626">
<text transform="translate(54.4 658.9) scale(1.18 1)" text-anchor="end">0</text>
<text transform="translate(54.4 582.4) scale(1.18 1)" text-anchor="end">1</text>
<text transform="translate(54.4 505.9) scale(1.18 1)" text-anchor="end">2</text>
<text transform="translate(54.4 429.4) scale(1.18 1)" text-anchor="end">3</text>
<text transform="translate(54.4 352.9) scale(1.18 1)" text-anchor="end">4</text>
<text transform="translate(54.4 276.4) scale(1.18 1)" text-anchor="end">5</text>
<text transform="translate(54.4 199.9) scale(1.18 1)" text-anchor="end">6</text>
<text transform="translate(54.4 123.4) scale(1.18 1)" text-anchor="end">7</text>
<text transform="translate(54.4 46.9) scale(1.18 1)" text-anchor="end">8</text>
<text transform="translate(70.1 688) scale(1.086 1)" font-size="24" text-anchor="middle">Mar</text>
<text transform="translate(181.6 688) scale(1.105 1)" font-size="24" text-anchor="middle">Apr</text>
<text transform="translate(291.2 688) scale(1.079 1)" font-size="24" text-anchor="middle">May</text>
<text transform="translate(402.1 688) scale(0.990 1)" font-size="24" text-anchor="middle">Jun</text>
<text transform="translate(510.9 688) scale(1.024 1)" font-size="24" text-anchor="middle">Jul</text>
<text transform="translate(623.2 688) scale(1.078 1)" font-size="24" text-anchor="middle">Aug</text>
<text transform="translate(736.2 688) scale(1.090 1)" font-size="24" text-anchor="middle">Sep</text>
<text transform="translate(844.4 688) scale(1.061 1)" font-size="24" text-anchor="middle">Oct</text>
</g>
<text x="389.5" y="721.3" font-family='"Liberation Sans", sans-serif' font-size="27.8" fill="#262626" textLength="138" lengthAdjust="spacingAndGlyphs">Year 2015</text>
<text transform="translate(26.8 491.5) rotate(-90)" font-family='"Liberation Sans", sans-serif' font-size="27.8" fill="#262626" textLength="291" lengthAdjust="spacingAndGlyphs">Bottom Oxygen (ml/l)</text>
<text x="272.5" y="24.8" font-family='"Liberation Sans", sans-serif' font-size="27.3" font-weight="bold" fill="#000" textLength="369.5" lengthAdjust="spacingAndGlyphs">Forecast at CE042, 2015</text>
<text x="294.5" y="582" font-family='"Liberation Sans", sans-serif' font-size="23" fill="#000" textLength="89" lengthAdjust="spacingAndGlyphs">Hypoxia</text>
<rect x="692" y="55.5" width="136.5" height="94.5" fill="#fff" stroke="#666" stroke-width="1"/>
<line x1="702" y1="73.3" x2="754" y2="73.3" stroke="#0000ff" stroke-width="5"/>
<text x="758.4" y="81.9" font-family='"Liberation Sans", sans-serif' font-size="23" fill="#000" textLength="65.5" lengthAdjust="spacingAndGlyphs">Run 1</text>
<line x1="702" y1="102.6" x2="754" y2="102.6" stroke="#ff0000" stroke-width="5"/>
<text x="758.4" y="111.2" font-family='"Liberation Sans", sans-serif' font-size="23" fill="#000" textLength="65.5" lengthAdjust="spacingAndGlyphs">Run 2</text>
<line x1="702" y1="131.9" x2="754" y2="131.9" stroke="#000" stroke-width="5"/>
<text x="758.4" y="140.5" font-family='"Liberation Sans", sans-serif' font-size="23" fill="#000" textLength="65.5" lengthAdjust="spacingAndGlyphs">Run 3</text>

<defs>
 <radialGradient id="lgbase" cx="0.38" cy="0.22" r="0.85" fx="0.4" fy="0.15">
  <stop offset="0" stop-color="#a4dee2"/>
  <stop offset="0.3" stop-color="#68bccc"/>
  <stop offset="0.6" stop-color="#4896bc"/>
  <stop offset="0.85" stop-color="#3270b4"/>
  <stop offset="1" stop-color="#2250a6"/>
 </radialGradient>
 <linearGradient id="lgray" x1="0" y1="0" x2="0" y2="1">
  <stop offset="0" stop-color="#e0f6f6" stop-opacity="0.7"/>
  <stop offset="1" stop-color="#e0f6f6" stop-opacity="0"/>
 </linearGradient>
 <radialGradient id="rgright" cx="0.95" cy="0.35" r="0.6">
  <stop offset="0" stop-color="#1838a0" stop-opacity="0.7"/>
  <stop offset="1" stop-color="#1030a0" stop-opacity="0"/>
 </radialGradient>
 <radialGradient id="rgbl" cx="0.1" cy="0.85" r="0.5">
  <stop offset="0" stop-color="#2050b0" stop-opacity="0.6"/>
  <stop offset="1" stop-color="#2050b0" stop-opacity="0"/>
 </radialGradient>
 <clipPath id="lclip"><circle cx="232.6" cy="115" r="49.5"/></clipPath>
 <filter id="ts" x="-20%" y="-50%" width="140%" height="200%"><feGaussianBlur stdDeviation="1.1"/></filter>
 <filter id="blur1" x="-20%" y="-20%" width="140%" height="140%"><feGaussianBlur stdDeviation="1.3"/></filter>
 <filter id="blur2" x="-50%" y="-50%" width="200%" height="200%"><feGaussianBlur stdDeviation="2.5"/></filter>
 <filter id="blur05" x="-20%" y="-50%" width="140%" height="200%"><feGaussianBlur stdDeviation="0.6"/></filter>
</defs>
<circle cx="231.8" cy="115.5" r="52.5" fill="#bdbdbd" filter="url(#blur1)"/>
<circle cx="232.6" cy="114.8" r="51.5" fill="#e2e2e2"/>
<ellipse cx="231" cy="62" rx="9" ry="2.5" fill="#c4c4c4" opacity="0.7" filter="url(#blur1)"/>
<g clip-path="url(#lclip)">
<rect x="180" y="62" width="106" height="106" fill="url(#lgbase)"/>
<rect x="180" y="62" width="106" height="106" fill="url(#rgright)"/>
<rect x="180" y="62" width="106" height="106" fill="url(#rgbl)"/>
<path d="M224 60 L246 60 L244 105 L230 105 Z" fill="url(#lgray)" filter="url(#blur2)"/>
<ellipse cx="234" cy="158" rx="20" ry="5" fill="#60a8d8" opacity="0.45" filter="url(#blur2)"/>
<ellipse cx="232" cy="135.8" rx="18" ry="4.2" fill="#4a7aa0" filter="url(#blur05)"/>
<path d="M218 134 Q230 129.5 246 133.5" stroke="#a8c8d8" stroke-width="1.2" fill="none" opacity="0.55" filter="url(#blur05)"/>
<path d="M248 136 L256 130.5 L253.5 137 L256 142.5 Z" fill="#4a7aa0" filter="url(#blur05)"/>
</g>
<text x="189" y="123" font-family='"Liberation Sans", sans-serif' font-size="21.5" fill="#0a2848" stroke="#0a2848" stroke-width="1.5" opacity="0.8" filter="url(#ts)" textLength="88" lengthAdjust="spacing" transform="translate(0.6 1)">J-SCOPE</text>
<text x="189" y="123" font-family='"Liberation Sans", sans-serif' font-size="21.5" fill="#fff" stroke="#fff" stroke-width="0.6" textLength="88" lengthAdjust="spacing">J-SCOPE</text>

</svg></body></html>
